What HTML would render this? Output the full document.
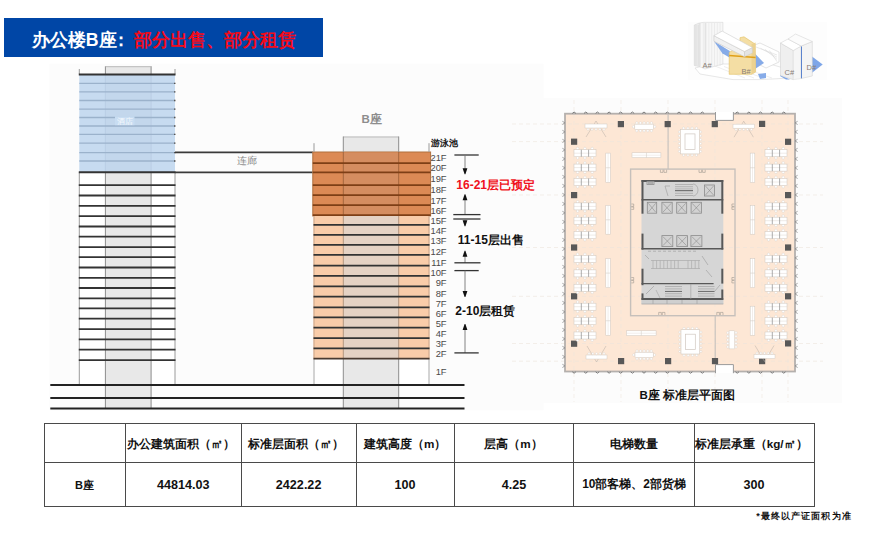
<!DOCTYPE html>
<html><head><meta charset="utf-8"><style>
html,body{margin:0;padding:0;background:#fff;}
body{width:873px;height:542px;position:relative;overflow:hidden;font-family:"Liberation Sans", sans-serif;}
.t{position:absolute;white-space:nowrap;line-height:1;}
.fl{position:absolute;left:420px;width:26.6px;text-align:right;font-size:9.4px;line-height:11px;color:#4a4a4a;white-space:nowrap;}
#title{position:absolute;left:4px;top:18px;width:319px;height:39px;background:#0046a6;}
#title span{position:absolute;top:11.5px;font-size:17.7px;font-weight:bold;line-height:20px;color:#fff;white-space:nowrap;}
#title .w1{left:27.8px;}
#title .w2{left:107.5px;}
#title .w3{left:129.5px;color:#f50a1a;}
table{position:absolute;left:43.5px;top:423px;border-collapse:collapse;table-layout:fixed;}
td{border:1.3px solid #4a4a4a;text-align:center;padding:0;font-weight:bold;white-space:nowrap;color:#111;}
tr.h td{height:39px;font-size:11.7px;padding-top:3px;box-sizing:border-box;}
tr.d td{height:44px;font-size:12.6px;padding-top:1px;box-sizing:border-box;}
</style></head><body>
<svg width="873" height="542" style="position:absolute;left:0;top:0"><rect x="49.5" y="63.7" width="494.1" height="346.7" fill="#fcfcfc" /><rect x="105.4" y="66.2" width="45.69999999999999" height="342.2" fill="#e8e8e8" /><rect x="79.3" y="74.4" width="95.7" height="97.79999999999998" fill="#c7dbf0" /><rect x="105.4" y="74.4" width="45.69999999999999" height="97.79999999999998" fill="#c3d7ec" /><rect x="79.3" y="172.2" width="26.10000000000001" height="212.7" fill="#ffffff" /><rect x="151.1" y="172.2" width="23.900000000000006" height="212.7" fill="#ffffff" /><line x1="79.3" y1="69" x2="79.3" y2="74.4" stroke="#9a9a9a" stroke-width="1"/><line x1="175.0" y1="69" x2="175.0" y2="74.4" stroke="#9a9a9a" stroke-width="1"/><line x1="79.3" y1="172.2" x2="79.3" y2="384.9" stroke="#9a9a9a" stroke-width="1"/><line x1="175.0" y1="172.2" x2="175.0" y2="384.9" stroke="#9a9a9a" stroke-width="1"/><line x1="105.4" y1="66.2" x2="105.4" y2="74.4" stroke="#8c8c8c" stroke-width="1"/><line x1="151.1" y1="66.2" x2="151.1" y2="74.4" stroke="#8c8c8c" stroke-width="1"/><line x1="105.4" y1="74.4" x2="105.4" y2="172.2" stroke="#b7cce2" stroke-width="0.8"/><line x1="151.1" y1="74.4" x2="151.1" y2="172.2" stroke="#b7cce2" stroke-width="0.8"/><line x1="105.4" y1="172.2" x2="105.4" y2="408.4" stroke="#8c8c8c" stroke-width="1"/><line x1="151.1" y1="172.2" x2="151.1" y2="408.4" stroke="#8c8c8c" stroke-width="1"/><line x1="105.4" y1="66.7" x2="151.1" y2="66.7" stroke="#bbbbbb" stroke-width="1"/><line x1="79.3" y1="83.4" x2="175.0" y2="83.4" stroke="#9bb2cb" stroke-width="1.3"/><line x1="174.0" y1="83.4" x2="175.5" y2="83.4" stroke="#555" stroke-width="1.3"/><line x1="79.3" y1="91.9" x2="175.0" y2="91.9" stroke="#9bb2cb" stroke-width="1.3"/><line x1="174.0" y1="91.9" x2="175.5" y2="91.9" stroke="#555" stroke-width="1.3"/><line x1="79.3" y1="100.5" x2="175.0" y2="100.5" stroke="#9bb2cb" stroke-width="1.3"/><line x1="174.0" y1="100.5" x2="175.5" y2="100.5" stroke="#555" stroke-width="1.3"/><line x1="79.3" y1="109.1" x2="175.0" y2="109.1" stroke="#9bb2cb" stroke-width="1.3"/><line x1="174.0" y1="109.1" x2="175.5" y2="109.1" stroke="#555" stroke-width="1.3"/><line x1="79.3" y1="117.5" x2="175.0" y2="117.5" stroke="#9bb2cb" stroke-width="1.3"/><line x1="174.0" y1="117.5" x2="175.5" y2="117.5" stroke="#555" stroke-width="1.3"/><line x1="79.3" y1="126.0" x2="175.0" y2="126.0" stroke="#9bb2cb" stroke-width="1.3"/><line x1="174.0" y1="126.0" x2="175.5" y2="126.0" stroke="#555" stroke-width="1.3"/><line x1="79.3" y1="134.3" x2="175.0" y2="134.3" stroke="#9bb2cb" stroke-width="1.3"/><line x1="174.0" y1="134.3" x2="175.5" y2="134.3" stroke="#555" stroke-width="1.3"/><line x1="79.3" y1="143.1" x2="175.0" y2="143.1" stroke="#9bb2cb" stroke-width="1.3"/><line x1="174.0" y1="143.1" x2="175.5" y2="143.1" stroke="#555" stroke-width="1.3"/><line x1="79.3" y1="152.6" x2="175.0" y2="152.6" stroke="#9bb2cb" stroke-width="1.3"/><line x1="174.0" y1="152.6" x2="175.5" y2="152.6" stroke="#555" stroke-width="1.3"/><line x1="79.3" y1="161.0" x2="175.0" y2="161.0" stroke="#9bb2cb" stroke-width="1.3"/><line x1="174.0" y1="161.0" x2="175.5" y2="161.0" stroke="#555" stroke-width="1.3"/><rect x="115" y="116.4" width="19.5" height="8.8" fill="#c8ddf2" /><line x1="78.8" y1="74.4" x2="175.5" y2="74.4" stroke="#333333" stroke-width="2"/><line x1="78.8" y1="172.2" x2="175.5" y2="172.2" stroke="#333333" stroke-width="2"/><line x1="78.8" y1="185.1" x2="175.5" y2="185.1" stroke="#333333" stroke-width="1.8"/><line x1="78.8" y1="195.5" x2="175.5" y2="195.5" stroke="#333333" stroke-width="1.8"/><line x1="78.8" y1="205.9" x2="175.5" y2="205.9" stroke="#333333" stroke-width="1.8"/><line x1="78.8" y1="216.1" x2="175.5" y2="216.1" stroke="#333333" stroke-width="1.8"/><line x1="78.8" y1="226.5" x2="175.5" y2="226.5" stroke="#333333" stroke-width="1.8"/><line x1="78.8" y1="236.7" x2="175.5" y2="236.7" stroke="#333333" stroke-width="1.8"/><line x1="78.8" y1="247.1" x2="175.5" y2="247.1" stroke="#333333" stroke-width="1.8"/><line x1="78.8" y1="257.1" x2="175.5" y2="257.1" stroke="#333333" stroke-width="1.8"/><line x1="78.8" y1="267.5" x2="175.5" y2="267.5" stroke="#333333" stroke-width="1.8"/><line x1="78.8" y1="277.9" x2="175.5" y2="277.9" stroke="#333333" stroke-width="1.8"/><line x1="78.8" y1="288.0" x2="175.5" y2="288.0" stroke="#333333" stroke-width="1.8"/><line x1="78.8" y1="298.3" x2="175.5" y2="298.3" stroke="#333333" stroke-width="1.8"/><line x1="78.8" y1="308.4" x2="175.5" y2="308.4" stroke="#333333" stroke-width="1.8"/><line x1="78.8" y1="318.7" x2="175.5" y2="318.7" stroke="#333333" stroke-width="1.8"/><line x1="78.8" y1="329.1" x2="175.5" y2="329.1" stroke="#333333" stroke-width="1.8"/><line x1="78.8" y1="339.4" x2="175.5" y2="339.4" stroke="#333333" stroke-width="1.8"/><line x1="78.8" y1="349.7" x2="175.5" y2="349.7" stroke="#333333" stroke-width="1.8"/><line x1="78.8" y1="360.1" x2="175.5" y2="360.1" stroke="#333333" stroke-width="1.8"/><line x1="175.0" y1="152.4" x2="312.8" y2="152.4" stroke="#3a3a3a" stroke-width="1.8"/><line x1="175.0" y1="172.3" x2="312.8" y2="172.3" stroke="#3a3a3a" stroke-width="1.8"/><rect x="343.3" y="136.5" width="55.39999999999998" height="271.9" fill="#e8e8e8" /><line x1="343.3" y1="137" x2="398.7" y2="137" stroke="#bbbbbb" stroke-width="1"/><rect x="312.8" y="152.0" width="117.80000000000001" height="64.0" fill="#dc8a55" stroke="#b0703f" stroke-width="1" /><rect x="343.3" y="152.5" width="55.39999999999998" height="63.0" fill="#d58d60" /><rect x="313.5" y="216.0" width="116.0" height="142.7" fill="#f9cca9" /><rect x="343.3" y="216.0" width="55.39999999999998" height="142.7" fill="#e5d2c4" /><rect x="313.5" y="358.7" width="29.80000000000001" height="26.19999999999999" fill="#ffffff" /><rect x="398.7" y="358.7" width="30.80000000000001" height="26.19999999999999" fill="#ffffff" /><line x1="314.0" y1="143.2" x2="314.0" y2="152" stroke="#9a9a9a" stroke-width="1"/><line x1="429.0" y1="143.2" x2="429.0" y2="152" stroke="#9a9a9a" stroke-width="1"/><line x1="314.0" y1="216" x2="314.0" y2="358.7" stroke="#c9a58a" stroke-width="1"/><line x1="429.0" y1="216" x2="429.0" y2="358.7" stroke="#c9a58a" stroke-width="1"/><line x1="314.0" y1="358.7" x2="314.0" y2="384.9" stroke="#a8a8a8" stroke-width="1"/><line x1="429.0" y1="358.7" x2="429.0" y2="384.9" stroke="#a8a8a8" stroke-width="1"/><line x1="343.3" y1="136.5" x2="343.3" y2="152" stroke="#8c8c8c" stroke-width="1"/><line x1="398.7" y1="136.5" x2="398.7" y2="152" stroke="#8c8c8c" stroke-width="1"/><line x1="343.3" y1="152" x2="343.3" y2="216" stroke="#a4663c" stroke-width="1"/><line x1="398.7" y1="152" x2="398.7" y2="216" stroke="#a4663c" stroke-width="1"/><line x1="343.3" y1="216" x2="343.3" y2="358.7" stroke="#b39680" stroke-width="1"/><line x1="398.7" y1="216" x2="398.7" y2="358.7" stroke="#b39680" stroke-width="1"/><line x1="343.3" y1="358.7" x2="343.3" y2="408.4" stroke="#8c8c8c" stroke-width="1"/><line x1="398.7" y1="358.7" x2="398.7" y2="408.4" stroke="#8c8c8c" stroke-width="1"/><line x1="312.8" y1="163.1" x2="430.6" y2="163.1" stroke="#7e3f16" stroke-width="1.8"/><line x1="312.8" y1="172.4" x2="430.6" y2="172.4" stroke="#7e3f16" stroke-width="1.8"/><line x1="312.8" y1="185.2" x2="430.6" y2="185.2" stroke="#7e3f16" stroke-width="1.8"/><line x1="312.8" y1="195.2" x2="430.6" y2="195.2" stroke="#7e3f16" stroke-width="1.8"/><line x1="312.8" y1="205.1" x2="430.6" y2="205.1" stroke="#7e3f16" stroke-width="1.8"/><line x1="312.8" y1="215.2" x2="430.6" y2="215.2" stroke="#7e3f16" stroke-width="1.8"/><line x1="313.5" y1="224.8" x2="429.5" y2="224.8" stroke="#333333" stroke-width="1.8"/><line x1="313.5" y1="234.8" x2="429.5" y2="234.8" stroke="#333333" stroke-width="1.8"/><line x1="313.5" y1="244.9" x2="429.5" y2="244.9" stroke="#333333" stroke-width="1.8"/><line x1="313.5" y1="254.9" x2="429.5" y2="254.9" stroke="#333333" stroke-width="1.8"/><line x1="313.5" y1="265.7" x2="429.5" y2="265.7" stroke="#333333" stroke-width="1.8"/><line x1="313.5" y1="275.9" x2="429.5" y2="275.9" stroke="#333333" stroke-width="1.8"/><line x1="313.5" y1="286.3" x2="429.5" y2="286.3" stroke="#333333" stroke-width="1.8"/><line x1="313.5" y1="296.7" x2="429.5" y2="296.7" stroke="#333333" stroke-width="1.8"/><line x1="313.5" y1="307.3" x2="429.5" y2="307.3" stroke="#333333" stroke-width="1.8"/><line x1="313.5" y1="317.3" x2="429.5" y2="317.3" stroke="#333333" stroke-width="1.8"/><line x1="313.5" y1="327.7" x2="429.5" y2="327.7" stroke="#333333" stroke-width="1.8"/><line x1="313.5" y1="338.1" x2="429.5" y2="338.1" stroke="#333333" stroke-width="1.8"/><line x1="313.5" y1="348.3" x2="429.5" y2="348.3" stroke="#333333" stroke-width="1.8"/><line x1="313.5" y1="358.7" x2="429.5" y2="358.7" stroke="#4a3a30" stroke-width="1.8"/><line x1="50.3" y1="384.9" x2="464.5" y2="384.9" stroke="#222222" stroke-width="2"/><line x1="50.3" y1="397.9" x2="464.5" y2="397.9" stroke="#222222" stroke-width="2"/><line x1="50.3" y1="408.4" x2="464.5" y2="408.4" stroke="#222222" stroke-width="2"/><line x1="454.4" y1="155.0" x2="478.7" y2="155.0" stroke="#333333" stroke-width="1.3"/><line x1="465.0" y1="155.0" x2="465.0" y2="169.3" stroke="#777" stroke-width="0.9"/><polygon points="462.6,168.3 467.4,168.3 465.4,174.3 464.6,174.3" fill="#111"/><line x1="465.0" y1="214.6" x2="465.0" y2="199.2" stroke="#777" stroke-width="0.9"/><polygon points="462.6,200.2 467.4,200.2 465.4,194.2 464.6,194.2" fill="#111"/><line x1="453.3" y1="214.6" x2="480.5" y2="214.6" stroke="#333333" stroke-width="1.3"/><line x1="453.3" y1="219.0" x2="480.5" y2="219.0" stroke="#333333" stroke-width="1.3"/><line x1="465.0" y1="219.0" x2="465.0" y2="221.3" stroke="#777" stroke-width="0.9"/><polygon points="462.6,220.3 467.4,220.3 465.4,226.3 464.6,226.3" fill="#111"/><line x1="465.0" y1="262.8" x2="465.0" y2="255.7" stroke="#777" stroke-width="0.9"/><polygon points="462.6,256.7 467.4,256.7 465.4,250.7 464.6,250.7" fill="#111"/><line x1="454.4" y1="262.8" x2="480.5" y2="262.8" stroke="#333333" stroke-width="1.3"/><line x1="454.4" y1="270.6" x2="478.7" y2="270.6" stroke="#333333" stroke-width="1.3"/><line x1="465.0" y1="270.6" x2="465.0" y2="292.1" stroke="#777" stroke-width="0.9"/><polygon points="462.6,291.1 467.4,291.1 465.4,297.1 464.6,297.1" fill="#111"/><line x1="465.0" y1="352.9" x2="465.0" y2="329.1" stroke="#777" stroke-width="0.9"/><polygon points="462.6,330.1 467.4,330.1 465.4,324.1 464.6,324.1" fill="#111"/><line x1="454.4" y1="352.9" x2="478.7" y2="352.9" stroke="#333333" stroke-width="1.3"/><rect x="508" y="98" width="334" height="304.8" fill="#fcfcfc" /><rect x="565.0" y="113.7" width="230.0" height="257.8" fill="#fde7d5" /><line x1="512" y1="124" x2="823" y2="124" stroke="#ece4dc" stroke-width="0.6" stroke-dasharray="4,3"/><line x1="512" y1="141.6" x2="823" y2="141.6" stroke="#ece4dc" stroke-width="0.6" stroke-dasharray="4,3"/><line x1="512" y1="195" x2="823" y2="195" stroke="#ece4dc" stroke-width="0.6" stroke-dasharray="4,3"/><line x1="512" y1="247.5" x2="823" y2="247.5" stroke="#ece4dc" stroke-width="0.6" stroke-dasharray="4,3"/><line x1="512" y1="296.3" x2="823" y2="296.3" stroke="#ece4dc" stroke-width="0.6" stroke-dasharray="4,3"/><line x1="512" y1="343.5" x2="823" y2="343.5" stroke="#ece4dc" stroke-width="0.6" stroke-dasharray="4,3"/><line x1="512" y1="361.2" x2="823" y2="361.2" stroke="#ece4dc" stroke-width="0.6" stroke-dasharray="4,3"/><line x1="574" y1="100" x2="574" y2="402" stroke="#eee6de" stroke-width="0.6" stroke-dasharray="4,3"/><line x1="621" y1="100" x2="621" y2="402" stroke="#eee6de" stroke-width="0.6" stroke-dasharray="4,3"/><line x1="668" y1="100" x2="668" y2="402" stroke="#eee6de" stroke-width="0.6" stroke-dasharray="4,3"/><line x1="715" y1="100" x2="715" y2="402" stroke="#eee6de" stroke-width="0.6" stroke-dasharray="4,3"/><line x1="762" y1="100" x2="762" y2="402" stroke="#eee6de" stroke-width="0.6" stroke-dasharray="4,3"/><line x1="788" y1="100" x2="788" y2="402" stroke="#eee6de" stroke-width="0.6" stroke-dasharray="4,3"/><rect x="565.0" y="113.7" width="230.0" height="257.8" fill="none" stroke="#b4b0ad" stroke-width="1.8" /><path d="M572.3,113.4 q1.8,-2.8 3.6,0" fill="none" stroke="#7a7a7a" stroke-width="1.0"/><path d="M572.3,371.8 q1.8,2.8 3.6,0" fill="none" stroke="#7a7a7a" stroke-width="1.0"/><path d="M584.0,113.4 q1.8,-2.8 3.6,0" fill="none" stroke="#7a7a7a" stroke-width="1.0"/><path d="M584.0,371.8 q1.8,2.8 3.6,0" fill="none" stroke="#7a7a7a" stroke-width="1.0"/><path d="M595.6,113.4 q1.8,-2.8 3.6,0" fill="none" stroke="#7a7a7a" stroke-width="1.0"/><path d="M595.6,371.8 q1.8,2.8 3.6,0" fill="none" stroke="#7a7a7a" stroke-width="1.0"/><path d="M607.3,113.4 q1.8,-2.8 3.6,0" fill="none" stroke="#7a7a7a" stroke-width="1.0"/><path d="M607.3,371.8 q1.8,2.8 3.6,0" fill="none" stroke="#7a7a7a" stroke-width="1.0"/><path d="M618.9,113.4 q1.8,-2.8 3.6,0" fill="none" stroke="#7a7a7a" stroke-width="1.0"/><path d="M618.9,371.8 q1.8,2.8 3.6,0" fill="none" stroke="#7a7a7a" stroke-width="1.0"/><path d="M630.6,113.4 q1.8,-2.8 3.6,0" fill="none" stroke="#7a7a7a" stroke-width="1.0"/><path d="M630.6,371.8 q1.8,2.8 3.6,0" fill="none" stroke="#7a7a7a" stroke-width="1.0"/><path d="M642.2,113.4 q1.8,-2.8 3.6,0" fill="none" stroke="#7a7a7a" stroke-width="1.0"/><path d="M642.2,371.8 q1.8,2.8 3.6,0" fill="none" stroke="#7a7a7a" stroke-width="1.0"/><path d="M653.9,113.4 q1.8,-2.8 3.6,0" fill="none" stroke="#7a7a7a" stroke-width="1.0"/><path d="M653.9,371.8 q1.8,2.8 3.6,0" fill="none" stroke="#7a7a7a" stroke-width="1.0"/><path d="M665.5,113.4 q1.8,-2.8 3.6,0" fill="none" stroke="#7a7a7a" stroke-width="1.0"/><path d="M665.5,371.8 q1.8,2.8 3.6,0" fill="none" stroke="#7a7a7a" stroke-width="1.0"/><path d="M677.2,113.4 q1.8,-2.8 3.6,0" fill="none" stroke="#7a7a7a" stroke-width="1.0"/><path d="M677.2,371.8 q1.8,2.8 3.6,0" fill="none" stroke="#7a7a7a" stroke-width="1.0"/><path d="M688.8,113.4 q1.8,-2.8 3.6,0" fill="none" stroke="#7a7a7a" stroke-width="1.0"/><path d="M688.8,371.8 q1.8,2.8 3.6,0" fill="none" stroke="#7a7a7a" stroke-width="1.0"/><path d="M700.5,113.4 q1.8,-2.8 3.6,0" fill="none" stroke="#7a7a7a" stroke-width="1.0"/><path d="M700.5,371.8 q1.8,2.8 3.6,0" fill="none" stroke="#7a7a7a" stroke-width="1.0"/><path d="M735.4,113.4 q1.8,-2.8 3.6,0" fill="none" stroke="#7a7a7a" stroke-width="1.0"/><path d="M735.4,371.8 q1.8,2.8 3.6,0" fill="none" stroke="#7a7a7a" stroke-width="1.0"/><path d="M747.1,113.4 q1.8,-2.8 3.6,0" fill="none" stroke="#7a7a7a" stroke-width="1.0"/><path d="M747.1,371.8 q1.8,2.8 3.6,0" fill="none" stroke="#7a7a7a" stroke-width="1.0"/><path d="M758.7,113.4 q1.8,-2.8 3.6,0" fill="none" stroke="#7a7a7a" stroke-width="1.0"/><path d="M758.7,371.8 q1.8,2.8 3.6,0" fill="none" stroke="#7a7a7a" stroke-width="1.0"/><path d="M770.4,113.4 q1.8,-2.8 3.6,0" fill="none" stroke="#7a7a7a" stroke-width="1.0"/><path d="M770.4,371.8 q1.8,2.8 3.6,0" fill="none" stroke="#7a7a7a" stroke-width="1.0"/><path d="M782.0,113.4 q1.8,-2.8 3.6,0" fill="none" stroke="#7a7a7a" stroke-width="1.0"/><path d="M782.0,371.8 q1.8,2.8 3.6,0" fill="none" stroke="#7a7a7a" stroke-width="1.0"/><path d="M562.4,121.3 L565.0,122.9 L562.4,124.5" fill="none" stroke="#8d8d8d" stroke-width="0.8"/><path d="M797.6,121.3 L795.0,122.9 L797.6,124.5" fill="none" stroke="#8d8d8d" stroke-width="0.8"/><path d="M562.4,130.3 L565.0,131.9 L562.4,133.5" fill="none" stroke="#8d8d8d" stroke-width="0.8"/><path d="M797.6,130.3 L795.0,131.9 L797.6,133.5" fill="none" stroke="#8d8d8d" stroke-width="0.8"/><path d="M562.4,139.3 L565.0,140.9 L562.4,142.5" fill="none" stroke="#8d8d8d" stroke-width="0.8"/><path d="M797.6,139.3 L795.0,140.9 L797.6,142.5" fill="none" stroke="#8d8d8d" stroke-width="0.8"/><path d="M562.4,148.3 L565.0,149.9 L562.4,151.5" fill="none" stroke="#8d8d8d" stroke-width="0.8"/><path d="M797.6,148.3 L795.0,149.9 L797.6,151.5" fill="none" stroke="#8d8d8d" stroke-width="0.8"/><path d="M562.4,157.3 L565.0,158.9 L562.4,160.5" fill="none" stroke="#8d8d8d" stroke-width="0.8"/><path d="M797.6,157.3 L795.0,158.9 L797.6,160.5" fill="none" stroke="#8d8d8d" stroke-width="0.8"/><path d="M562.4,166.3 L565.0,167.9 L562.4,169.5" fill="none" stroke="#8d8d8d" stroke-width="0.8"/><path d="M797.6,166.3 L795.0,167.9 L797.6,169.5" fill="none" stroke="#8d8d8d" stroke-width="0.8"/><path d="M562.4,175.3 L565.0,176.9 L562.4,178.5" fill="none" stroke="#8d8d8d" stroke-width="0.8"/><path d="M797.6,175.3 L795.0,176.9 L797.6,178.5" fill="none" stroke="#8d8d8d" stroke-width="0.8"/><path d="M562.4,184.3 L565.0,185.9 L562.4,187.5" fill="none" stroke="#8d8d8d" stroke-width="0.8"/><path d="M797.6,184.3 L795.0,185.9 L797.6,187.5" fill="none" stroke="#8d8d8d" stroke-width="0.8"/><path d="M562.4,193.3 L565.0,194.9 L562.4,196.5" fill="none" stroke="#8d8d8d" stroke-width="0.8"/><path d="M797.6,193.3 L795.0,194.9 L797.6,196.5" fill="none" stroke="#8d8d8d" stroke-width="0.8"/><path d="M562.4,202.3 L565.0,203.9 L562.4,205.5" fill="none" stroke="#8d8d8d" stroke-width="0.8"/><path d="M797.6,202.3 L795.0,203.9 L797.6,205.5" fill="none" stroke="#8d8d8d" stroke-width="0.8"/><path d="M562.4,211.3 L565.0,212.9 L562.4,214.5" fill="none" stroke="#8d8d8d" stroke-width="0.8"/><path d="M797.6,211.3 L795.0,212.9 L797.6,214.5" fill="none" stroke="#8d8d8d" stroke-width="0.8"/><path d="M562.4,220.3 L565.0,221.9 L562.4,223.5" fill="none" stroke="#8d8d8d" stroke-width="0.8"/><path d="M797.6,220.3 L795.0,221.9 L797.6,223.5" fill="none" stroke="#8d8d8d" stroke-width="0.8"/><path d="M562.4,229.3 L565.0,230.9 L562.4,232.5" fill="none" stroke="#8d8d8d" stroke-width="0.8"/><path d="M797.6,229.3 L795.0,230.9 L797.6,232.5" fill="none" stroke="#8d8d8d" stroke-width="0.8"/><path d="M562.4,238.3 L565.0,239.9 L562.4,241.5" fill="none" stroke="#8d8d8d" stroke-width="0.8"/><path d="M797.6,238.3 L795.0,239.9 L797.6,241.5" fill="none" stroke="#8d8d8d" stroke-width="0.8"/><path d="M562.4,247.3 L565.0,248.9 L562.4,250.5" fill="none" stroke="#8d8d8d" stroke-width="0.8"/><path d="M797.6,247.3 L795.0,248.9 L797.6,250.5" fill="none" stroke="#8d8d8d" stroke-width="0.8"/><path d="M562.4,256.3 L565.0,257.9 L562.4,259.5" fill="none" stroke="#8d8d8d" stroke-width="0.8"/><path d="M797.6,256.3 L795.0,257.9 L797.6,259.5" fill="none" stroke="#8d8d8d" stroke-width="0.8"/><path d="M562.4,265.3 L565.0,266.9 L562.4,268.5" fill="none" stroke="#8d8d8d" stroke-width="0.8"/><path d="M797.6,265.3 L795.0,266.9 L797.6,268.5" fill="none" stroke="#8d8d8d" stroke-width="0.8"/><path d="M562.4,274.3 L565.0,275.9 L562.4,277.5" fill="none" stroke="#8d8d8d" stroke-width="0.8"/><path d="M797.6,274.3 L795.0,275.9 L797.6,277.5" fill="none" stroke="#8d8d8d" stroke-width="0.8"/><path d="M562.4,283.3 L565.0,284.9 L562.4,286.5" fill="none" stroke="#8d8d8d" stroke-width="0.8"/><path d="M797.6,283.3 L795.0,284.9 L797.6,286.5" fill="none" stroke="#8d8d8d" stroke-width="0.8"/><path d="M562.4,292.3 L565.0,293.9 L562.4,295.5" fill="none" stroke="#8d8d8d" stroke-width="0.8"/><path d="M797.6,292.3 L795.0,293.9 L797.6,295.5" fill="none" stroke="#8d8d8d" stroke-width="0.8"/><path d="M562.4,301.3 L565.0,302.9 L562.4,304.5" fill="none" stroke="#8d8d8d" stroke-width="0.8"/><path d="M797.6,301.3 L795.0,302.9 L797.6,304.5" fill="none" stroke="#8d8d8d" stroke-width="0.8"/><path d="M562.4,310.3 L565.0,311.9 L562.4,313.5" fill="none" stroke="#8d8d8d" stroke-width="0.8"/><path d="M797.6,310.3 L795.0,311.9 L797.6,313.5" fill="none" stroke="#8d8d8d" stroke-width="0.8"/><path d="M562.4,319.3 L565.0,320.9 L562.4,322.5" fill="none" stroke="#8d8d8d" stroke-width="0.8"/><path d="M797.6,319.3 L795.0,320.9 L797.6,322.5" fill="none" stroke="#8d8d8d" stroke-width="0.8"/><path d="M562.4,328.3 L565.0,329.9 L562.4,331.5" fill="none" stroke="#8d8d8d" stroke-width="0.8"/><path d="M797.6,328.3 L795.0,329.9 L797.6,331.5" fill="none" stroke="#8d8d8d" stroke-width="0.8"/><path d="M562.4,337.3 L565.0,338.9 L562.4,340.5" fill="none" stroke="#8d8d8d" stroke-width="0.8"/><path d="M797.6,337.3 L795.0,338.9 L797.6,340.5" fill="none" stroke="#8d8d8d" stroke-width="0.8"/><path d="M562.4,346.3 L565.0,347.9 L562.4,349.5" fill="none" stroke="#8d8d8d" stroke-width="0.8"/><path d="M797.6,346.3 L795.0,347.9 L797.6,349.5" fill="none" stroke="#8d8d8d" stroke-width="0.8"/><path d="M562.4,355.3 L565.0,356.9 L562.4,358.5" fill="none" stroke="#8d8d8d" stroke-width="0.8"/><path d="M797.6,355.3 L795.0,356.9 L797.6,358.5" fill="none" stroke="#8d8d8d" stroke-width="0.8"/><path d="M562.4,364.3 L565.0,365.9 L562.4,367.5" fill="none" stroke="#8d8d8d" stroke-width="0.8"/><path d="M797.6,364.3 L795.0,365.9 L797.6,367.5" fill="none" stroke="#8d8d8d" stroke-width="0.8"/><rect x="715.5" y="112.0" width="17.899999999999977" height="8.400000000000006" fill="#ffffff" /><line x1="715.5" y1="112.0" x2="715.5" y2="120.4" stroke="#9a9a9a" stroke-width="1"/><line x1="733.4" y1="112.0" x2="733.4" y2="120.4" stroke="#9a9a9a" stroke-width="1"/><line x1="715.5" y1="120.4" x2="733.4" y2="120.4" stroke="#9a9a9a" stroke-width="1"/><rect x="715.5" y="364.6" width="17.899999999999977" height="8.599999999999966" fill="#ffffff" /><line x1="715.5" y1="364.6" x2="715.5" y2="373.2" stroke="#9a9a9a" stroke-width="1"/><line x1="733.4" y1="364.6" x2="733.4" y2="373.2" stroke="#9a9a9a" stroke-width="1"/><line x1="715.5" y1="364.6" x2="733.4" y2="364.6" stroke="#9a9a9a" stroke-width="1"/><rect x="630.6" y="169.1" width="104.39999999999998" height="146.6" fill="none" stroke="#c6c0bb" stroke-width="1.4" /><line x1="668.1" y1="113.7" x2="668.1" y2="169.1" stroke="#c6c0bb" stroke-width="1.1"/><line x1="715.2" y1="315.7" x2="715.2" y2="364.6" stroke="#c6c0bb" stroke-width="1.1"/><path d="M660.4,169.8 l0,2.6 l2.6,0 l0,-2.6" fill="none" stroke="#a09890" stroke-width="0.6"/><path d="M664,169.8 l0,2.6 l2.6,0 l0,-2.6" fill="none" stroke="#a09890" stroke-width="0.6"/><path d="M699,169.8 l0,2.6 l2.6,0 l0,-2.6" fill="none" stroke="#a09890" stroke-width="0.6"/><path d="M702.6,169.8 l0,2.6 l2.6,0 l0,-2.6" fill="none" stroke="#a09890" stroke-width="0.6"/><path d="M658.7,315 l0,-2.6 l2.6,0 l0,2.6" fill="none" stroke="#a09890" stroke-width="0.6"/><path d="M662.3,315 l0,-2.6 l2.6,0 l0,2.6" fill="none" stroke="#a09890" stroke-width="0.6"/><path d="M716.8,315 l0,-2.6 l2.6,0 l0,2.6" fill="none" stroke="#a09890" stroke-width="0.6"/><path d="M720.4,315 l0,-2.6 l2.6,0 l0,2.6" fill="none" stroke="#a09890" stroke-width="0.6"/><path d="M631.3,204 l2.4,0 l0,2.4 l-2.4,0" fill="none" stroke="#a09890" stroke-width="0.6"/><path d="M631.3,207 l2.4,0 l0,2.4 l-2.4,0" fill="none" stroke="#a09890" stroke-width="0.6"/><path d="M734.3,204 l-2.4,0 l0,2.4 l2.4,0" fill="none" stroke="#a09890" stroke-width="0.6"/><path d="M734.3,207 l-2.4,0 l0,2.4 l2.4,0" fill="none" stroke="#a09890" stroke-width="0.6"/><path d="M631.3,277.5 l2.4,0 l0,2.4 l-2.4,0" fill="none" stroke="#a09890" stroke-width="0.6"/><path d="M631.3,280.5 l2.4,0 l0,2.4 l-2.4,0" fill="none" stroke="#a09890" stroke-width="0.6"/><path d="M734.3,277.5 l-2.4,0 l0,2.4 l2.4,0" fill="none" stroke="#a09890" stroke-width="0.6"/><path d="M734.3,280.5 l-2.4,0 l0,2.4 l2.4,0" fill="none" stroke="#a09890" stroke-width="0.6"/><rect x="641.5" y="180.0" width="81.79999999999995" height="124.0" fill="#d6d6d6" /><line x1="641.5" y1="181.0" x2="723.3" y2="181.0" stroke="#585858" stroke-width="2"/><line x1="642.5" y1="180" x2="642.5" y2="213.7" stroke="#585858" stroke-width="2"/><line x1="722.3" y1="180" x2="722.3" y2="213.7" stroke="#585858" stroke-width="2"/><line x1="642.5" y1="233.6" x2="642.5" y2="249.6" stroke="#585858" stroke-width="2"/><line x1="722.3" y1="233.6" x2="722.3" y2="249.6" stroke="#585858" stroke-width="2"/><line x1="641.5" y1="199.7" x2="723.3" y2="199.7" stroke="#585858" stroke-width="1.5"/><line x1="641.5" y1="248.8" x2="723.3" y2="248.8" stroke="#585858" stroke-width="1.6"/><line x1="642.5" y1="268.7" x2="642.5" y2="285.2" stroke="#585858" stroke-width="2"/><line x1="722.3" y1="268.7" x2="722.3" y2="283.6" stroke="#585858" stroke-width="2"/><line x1="641.5" y1="283.6" x2="713.6" y2="283.6" stroke="#585858" stroke-width="1.3"/><line x1="642.5" y1="293.4" x2="642.5" y2="299.8" stroke="#585858" stroke-width="2"/><line x1="722.3" y1="289.5" x2="722.3" y2="299.8" stroke="#585858" stroke-width="2"/><line x1="641.5" y1="299.0" x2="723.3" y2="299.0" stroke="#585858" stroke-width="2"/><rect x="641.5" y="300" width="81.79999999999995" height="4" fill="#cfcfcf" /><line x1="653" y1="300" x2="653" y2="304" stroke="#9a9a9a" stroke-width="0.6"/><line x1="667" y1="300" x2="667" y2="304" stroke="#9a9a9a" stroke-width="0.6"/><line x1="682" y1="300" x2="682" y2="304" stroke="#9a9a9a" stroke-width="0.6"/><line x1="697" y1="300" x2="697" y2="304" stroke="#9a9a9a" stroke-width="0.6"/><line x1="641.5" y1="304" x2="723.3" y2="304" stroke="#a8a8a8" stroke-width="0.8"/><rect x="647.3" y="202.3" width="9.400000000000091" height="10.899999999999977" fill="#d2d2d2" stroke="#8c8c8c" stroke-width="0.8" /><line x1="648.3" y1="203.3" x2="655.7" y2="212.2" stroke="#8c8c8c" stroke-width="0.6"/><line x1="648.3" y1="212.2" x2="655.7" y2="203.3" stroke="#8c8c8c" stroke-width="0.6"/><rect x="661.9" y="202.3" width="10.300000000000068" height="10.899999999999977" fill="#d2d2d2" stroke="#8c8c8c" stroke-width="0.8" /><line x1="662.9" y1="203.3" x2="671.2" y2="212.2" stroke="#8c8c8c" stroke-width="0.6"/><line x1="662.9" y1="212.2" x2="671.2" y2="203.3" stroke="#8c8c8c" stroke-width="0.6"/><rect x="676.7" y="202.3" width="10.0" height="10.899999999999977" fill="#d2d2d2" stroke="#8c8c8c" stroke-width="0.8" /><line x1="677.7" y1="203.3" x2="685.7" y2="212.2" stroke="#8c8c8c" stroke-width="0.6"/><line x1="677.7" y1="212.2" x2="685.7" y2="203.3" stroke="#8c8c8c" stroke-width="0.6"/><rect x="691.1" y="202.3" width="10.399999999999977" height="10.899999999999977" fill="#d2d2d2" stroke="#8c8c8c" stroke-width="0.8" /><line x1="692.1" y1="203.3" x2="700.5" y2="212.2" stroke="#8c8c8c" stroke-width="0.6"/><line x1="692.1" y1="212.2" x2="700.5" y2="203.3" stroke="#8c8c8c" stroke-width="0.6"/><rect x="661.9" y="235.6" width="10.899999999999977" height="11.0" fill="#d2d2d2" stroke="#8c8c8c" stroke-width="0.8" /><line x1="662.9" y1="236.6" x2="671.8" y2="245.6" stroke="#8c8c8c" stroke-width="0.6"/><line x1="662.9" y1="245.6" x2="671.8" y2="236.6" stroke="#8c8c8c" stroke-width="0.6"/><rect x="676.8" y="235.6" width="10.700000000000045" height="11.0" fill="#d2d2d2" stroke="#8c8c8c" stroke-width="0.8" /><line x1="677.8" y1="236.6" x2="686.5" y2="245.6" stroke="#8c8c8c" stroke-width="0.6"/><line x1="677.8" y1="245.6" x2="686.5" y2="236.6" stroke="#8c8c8c" stroke-width="0.6"/><rect x="690.9" y="235.6" width="11.0" height="11.0" fill="#d2d2d2" stroke="#8c8c8c" stroke-width="0.8" /><line x1="691.9" y1="236.6" x2="700.9" y2="245.6" stroke="#8c8c8c" stroke-width="0.6"/><line x1="691.9" y1="245.6" x2="700.9" y2="236.6" stroke="#8c8c8c" stroke-width="0.6"/><rect x="704.5" y="185" width="10.0" height="11" fill="#d2d2d2" stroke="#8c8c8c" stroke-width="0.8" /><line x1="705.5" y1="186" x2="713.5" y2="195" stroke="#8c8c8c" stroke-width="0.6"/><line x1="705.5" y1="195" x2="713.5" y2="186" stroke="#8c8c8c" stroke-width="0.6"/><rect x="647" y="181.5" width="7" height="3.0" fill="#d2d2d2" stroke="#8c8c8c" stroke-width="0.8" /><line x1="648" y1="182.5" x2="653" y2="183.5" stroke="#8c8c8c" stroke-width="0.6"/><line x1="648" y1="183.5" x2="653" y2="182.5" stroke="#8c8c8c" stroke-width="0.6"/><line x1="675" y1="184.5" x2="693" y2="184.5" stroke="#9a9a9a" stroke-width="0.6"/><line x1="675" y1="186.7" x2="693" y2="186.7" stroke="#9a9a9a" stroke-width="0.6"/><line x1="675" y1="188.9" x2="693" y2="188.9" stroke="#9a9a9a" stroke-width="0.6"/><line x1="675" y1="191.1" x2="693" y2="191.1" stroke="#9a9a9a" stroke-width="0.6"/><line x1="675" y1="193.3" x2="693" y2="193.3" stroke="#9a9a9a" stroke-width="0.6"/><line x1="675" y1="195.5" x2="693" y2="195.5" stroke="#9a9a9a" stroke-width="0.6"/><line x1="675" y1="190.5" x2="693" y2="190.5" stroke="#6a6a6a" stroke-width="0.9"/><path d="M693,184 a5,6 0 0 1 0,12" fill="none" stroke="#9a9a9a" stroke-width="0.6"/><line x1="665" y1="186" x2="668" y2="196" stroke="#9a9a9a" stroke-width="0.6"/><line x1="665" y1="186" x2="670" y2="186" stroke="#9a9a9a" stroke-width="0.6"/><line x1="653.0" y1="260.5" x2="653.0" y2="268.5" stroke="#a5a5a5" stroke-width="0.6"/><line x1="656.6" y1="260.5" x2="656.6" y2="268.5" stroke="#a5a5a5" stroke-width="0.6"/><line x1="660.2" y1="260.5" x2="660.2" y2="268.5" stroke="#a5a5a5" stroke-width="0.6"/><line x1="663.8" y1="260.5" x2="663.8" y2="268.5" stroke="#a5a5a5" stroke-width="0.6"/><line x1="667.4" y1="260.5" x2="667.4" y2="268.5" stroke="#a5a5a5" stroke-width="0.6"/><line x1="671.0" y1="260.5" x2="671.0" y2="268.5" stroke="#a5a5a5" stroke-width="0.6"/><line x1="674.6" y1="260.5" x2="674.6" y2="268.5" stroke="#a5a5a5" stroke-width="0.6"/><line x1="678.2" y1="260.5" x2="678.2" y2="268.5" stroke="#a5a5a5" stroke-width="0.6"/><line x1="688.0" y1="260.5" x2="688.0" y2="268.5" stroke="#a5a5a5" stroke-width="0.6"/><line x1="691.6" y1="260.5" x2="691.6" y2="268.5" stroke="#a5a5a5" stroke-width="0.6"/><line x1="695.2" y1="260.5" x2="695.2" y2="268.5" stroke="#a5a5a5" stroke-width="0.6"/><line x1="698.8" y1="260.5" x2="698.8" y2="268.5" stroke="#a5a5a5" stroke-width="0.6"/><line x1="651" y1="260.5" x2="700" y2="260.5" stroke="#a5a5a5" stroke-width="0.6"/><line x1="651" y1="268.5" x2="700" y2="268.5" stroke="#a5a5a5" stroke-width="0.6"/><line x1="648" y1="251.2" x2="651" y2="251.2" stroke="#a0a0a0" stroke-width="0.7"/><line x1="653" y1="251.2" x2="656" y2="251.2" stroke="#a0a0a0" stroke-width="0.7"/><line x1="658" y1="251.2" x2="661" y2="251.2" stroke="#a0a0a0" stroke-width="0.7"/><line x1="663" y1="251.2" x2="666" y2="251.2" stroke="#a0a0a0" stroke-width="0.7"/><line x1="668" y1="251.2" x2="671" y2="251.2" stroke="#a0a0a0" stroke-width="0.7"/><line x1="673" y1="251.2" x2="676" y2="251.2" stroke="#a0a0a0" stroke-width="0.7"/><line x1="678" y1="251.2" x2="681" y2="251.2" stroke="#a0a0a0" stroke-width="0.7"/><line x1="683" y1="251.2" x2="686" y2="251.2" stroke="#a0a0a0" stroke-width="0.7"/><line x1="688" y1="251.2" x2="691" y2="251.2" stroke="#a0a0a0" stroke-width="0.7"/><line x1="693" y1="251.2" x2="696" y2="251.2" stroke="#a0a0a0" stroke-width="0.7"/><line x1="702" y1="256" x2="708" y2="265" stroke="#9a9a9a" stroke-width="0.6"/><line x1="645" y1="255" x2="649" y2="259" stroke="#9a9a9a" stroke-width="0.6"/><line x1="706" y1="270" x2="712" y2="277" stroke="#9a9a9a" stroke-width="0.6"/><line x1="665" y1="286.5" x2="682" y2="286.5" stroke="#9a9a9a" stroke-width="0.6"/><line x1="698" y1="286.5" x2="714.5" y2="286.5" stroke="#9a9a9a" stroke-width="0.6"/><line x1="665" y1="288.9" x2="682" y2="288.9" stroke="#9a9a9a" stroke-width="0.6"/><line x1="698" y1="288.9" x2="714.5" y2="288.9" stroke="#9a9a9a" stroke-width="0.6"/><line x1="665" y1="291.3" x2="682" y2="291.3" stroke="#9a9a9a" stroke-width="0.6"/><line x1="698" y1="291.3" x2="714.5" y2="291.3" stroke="#9a9a9a" stroke-width="0.6"/><line x1="665" y1="293.7" x2="682" y2="293.7" stroke="#9a9a9a" stroke-width="0.6"/><line x1="698" y1="293.7" x2="714.5" y2="293.7" stroke="#9a9a9a" stroke-width="0.6"/><line x1="665" y1="296.1" x2="682" y2="296.1" stroke="#9a9a9a" stroke-width="0.6"/><line x1="698" y1="296.1" x2="714.5" y2="296.1" stroke="#9a9a9a" stroke-width="0.6"/><line x1="665" y1="291.5" x2="682" y2="291.5" stroke="#6a6a6a" stroke-width="0.9"/><line x1="698" y1="291.5" x2="714.5" y2="291.5" stroke="#6a6a6a" stroke-width="0.9"/><line x1="690.8" y1="284" x2="690.8" y2="299" stroke="#9a9a9a" stroke-width="0.6"/><line x1="646" y1="294" x2="654" y2="286" stroke="#9a9a9a" stroke-width="0.6"/><line x1="656" y1="290" x2="660" y2="298" stroke="#a5a5a5" stroke-width="0.6"/><line x1="714" y1="292" x2="720" y2="285" stroke="#9a9a9a" stroke-width="0.6"/><rect x="617.8" y="121.0" width="6.2" height="6.2" fill="#585858" /><rect x="664.6" y="121.0" width="6.2" height="6.2" fill="#585858" /><rect x="711.7" y="121.0" width="6.2" height="6.2" fill="#585858" /><rect x="759" y="120.8" width="6.2" height="6.2" fill="#585858" /><rect x="571" y="138.6" width="6.2" height="6.2" fill="#585858" /><rect x="785" y="138.7" width="6.2" height="6.2" fill="#585858" /><rect x="571" y="192" width="6.2" height="6.2" fill="#585858" /><rect x="785" y="192" width="6.2" height="6.2" fill="#585858" /><rect x="571" y="244.4" width="6.2" height="6.2" fill="#585858" /><rect x="785" y="244.4" width="6.2" height="6.2" fill="#585858" /><rect x="571" y="293.2" width="6.2" height="6.2" fill="#585858" /><rect x="785" y="293.2" width="6.2" height="6.2" fill="#585858" /><rect x="571" y="340.6" width="6.2" height="6.2" fill="#585858" /><rect x="785" y="340.3" width="6.2" height="6.2" fill="#585858" /><rect x="618.0" y="358.0" width="6.2" height="6.2" fill="#585858" /><rect x="665.0" y="358.0" width="6.2" height="6.2" fill="#585858" /><rect x="711.9" y="358.0" width="6.2" height="6.2" fill="#585858" /><rect x="759" y="358.0" width="6.2" height="6.2" fill="#585858" /><circle cx="577.6" cy="148.5" r="1.3" fill="#ffffff" stroke="#d4ccc4" stroke-width="0.4"/><circle cx="577.6" cy="157.9" r="1.3" fill="#ffffff" stroke="#d4ccc4" stroke-width="0.4"/><circle cx="584.9" cy="148.5" r="1.3" fill="#ffffff" stroke="#d4ccc4" stroke-width="0.4"/><circle cx="584.9" cy="157.9" r="1.3" fill="#ffffff" stroke="#d4ccc4" stroke-width="0.4"/><circle cx="592.2" cy="148.5" r="1.3" fill="#ffffff" stroke="#d4ccc4" stroke-width="0.4"/><circle cx="592.2" cy="157.9" r="1.3" fill="#ffffff" stroke="#d4ccc4" stroke-width="0.4"/><rect x="574.0" y="149.7" width="22" height="7" fill="#ffffff" stroke="#cfc7bf" stroke-width="0.5" /><line x1="574.0" y1="153.2" x2="596.0" y2="153.2" stroke="#ddd5ce" stroke-width="0.5"/><line x1="581.3" y1="149.7" x2="581.3" y2="156.7" stroke="#8a8a8a" stroke-width="0.7"/><line x1="588.6" y1="149.7" x2="588.6" y2="156.7" stroke="#8a8a8a" stroke-width="0.7"/><circle cx="768.6" cy="148.5" r="1.3" fill="#ffffff" stroke="#d4ccc4" stroke-width="0.4"/><circle cx="768.6" cy="157.9" r="1.3" fill="#ffffff" stroke="#d4ccc4" stroke-width="0.4"/><circle cx="775.9" cy="148.5" r="1.3" fill="#ffffff" stroke="#d4ccc4" stroke-width="0.4"/><circle cx="775.9" cy="157.9" r="1.3" fill="#ffffff" stroke="#d4ccc4" stroke-width="0.4"/><circle cx="783.2" cy="148.5" r="1.3" fill="#ffffff" stroke="#d4ccc4" stroke-width="0.4"/><circle cx="783.2" cy="157.9" r="1.3" fill="#ffffff" stroke="#d4ccc4" stroke-width="0.4"/><rect x="765.0" y="149.7" width="22" height="7" fill="#ffffff" stroke="#cfc7bf" stroke-width="0.5" /><line x1="765.0" y1="153.2" x2="787.0" y2="153.2" stroke="#ddd5ce" stroke-width="0.5"/><line x1="772.3" y1="149.7" x2="772.3" y2="156.7" stroke="#8a8a8a" stroke-width="0.7"/><line x1="779.6" y1="149.7" x2="779.6" y2="156.7" stroke="#8a8a8a" stroke-width="0.7"/><circle cx="577.6" cy="162.9" r="1.3" fill="#ffffff" stroke="#d4ccc4" stroke-width="0.4"/><circle cx="577.6" cy="172.3" r="1.3" fill="#ffffff" stroke="#d4ccc4" stroke-width="0.4"/><circle cx="584.9" cy="162.9" r="1.3" fill="#ffffff" stroke="#d4ccc4" stroke-width="0.4"/><circle cx="584.9" cy="172.3" r="1.3" fill="#ffffff" stroke="#d4ccc4" stroke-width="0.4"/><circle cx="592.2" cy="162.9" r="1.3" fill="#ffffff" stroke="#d4ccc4" stroke-width="0.4"/><circle cx="592.2" cy="172.3" r="1.3" fill="#ffffff" stroke="#d4ccc4" stroke-width="0.4"/><rect x="574.0" y="164.1" width="22" height="7" fill="#ffffff" stroke="#cfc7bf" stroke-width="0.5" /><line x1="574.0" y1="167.6" x2="596.0" y2="167.6" stroke="#ddd5ce" stroke-width="0.5"/><line x1="581.3" y1="164.1" x2="581.3" y2="171.1" stroke="#8a8a8a" stroke-width="0.7"/><line x1="588.6" y1="164.1" x2="588.6" y2="171.1" stroke="#8a8a8a" stroke-width="0.7"/><circle cx="768.6" cy="162.9" r="1.3" fill="#ffffff" stroke="#d4ccc4" stroke-width="0.4"/><circle cx="768.6" cy="172.3" r="1.3" fill="#ffffff" stroke="#d4ccc4" stroke-width="0.4"/><circle cx="775.9" cy="162.9" r="1.3" fill="#ffffff" stroke="#d4ccc4" stroke-width="0.4"/><circle cx="775.9" cy="172.3" r="1.3" fill="#ffffff" stroke="#d4ccc4" stroke-width="0.4"/><circle cx="783.2" cy="162.9" r="1.3" fill="#ffffff" stroke="#d4ccc4" stroke-width="0.4"/><circle cx="783.2" cy="172.3" r="1.3" fill="#ffffff" stroke="#d4ccc4" stroke-width="0.4"/><rect x="765.0" y="164.1" width="22" height="7" fill="#ffffff" stroke="#cfc7bf" stroke-width="0.5" /><line x1="765.0" y1="167.6" x2="787.0" y2="167.6" stroke="#ddd5ce" stroke-width="0.5"/><line x1="772.3" y1="164.1" x2="772.3" y2="171.1" stroke="#8a8a8a" stroke-width="0.7"/><line x1="779.6" y1="164.1" x2="779.6" y2="171.1" stroke="#8a8a8a" stroke-width="0.7"/><circle cx="577.6" cy="177.3" r="1.3" fill="#ffffff" stroke="#d4ccc4" stroke-width="0.4"/><circle cx="577.6" cy="186.7" r="1.3" fill="#ffffff" stroke="#d4ccc4" stroke-width="0.4"/><circle cx="584.9" cy="177.3" r="1.3" fill="#ffffff" stroke="#d4ccc4" stroke-width="0.4"/><circle cx="584.9" cy="186.7" r="1.3" fill="#ffffff" stroke="#d4ccc4" stroke-width="0.4"/><circle cx="592.2" cy="177.3" r="1.3" fill="#ffffff" stroke="#d4ccc4" stroke-width="0.4"/><circle cx="592.2" cy="186.7" r="1.3" fill="#ffffff" stroke="#d4ccc4" stroke-width="0.4"/><rect x="574.0" y="178.5" width="22" height="7" fill="#ffffff" stroke="#cfc7bf" stroke-width="0.5" /><line x1="574.0" y1="182.0" x2="596.0" y2="182.0" stroke="#ddd5ce" stroke-width="0.5"/><line x1="581.3" y1="178.5" x2="581.3" y2="185.5" stroke="#8a8a8a" stroke-width="0.7"/><line x1="588.6" y1="178.5" x2="588.6" y2="185.5" stroke="#8a8a8a" stroke-width="0.7"/><circle cx="768.6" cy="177.3" r="1.3" fill="#ffffff" stroke="#d4ccc4" stroke-width="0.4"/><circle cx="768.6" cy="186.7" r="1.3" fill="#ffffff" stroke="#d4ccc4" stroke-width="0.4"/><circle cx="775.9" cy="177.3" r="1.3" fill="#ffffff" stroke="#d4ccc4" stroke-width="0.4"/><circle cx="775.9" cy="186.7" r="1.3" fill="#ffffff" stroke="#d4ccc4" stroke-width="0.4"/><circle cx="783.2" cy="177.3" r="1.3" fill="#ffffff" stroke="#d4ccc4" stroke-width="0.4"/><circle cx="783.2" cy="186.7" r="1.3" fill="#ffffff" stroke="#d4ccc4" stroke-width="0.4"/><rect x="765.0" y="178.5" width="22" height="7" fill="#ffffff" stroke="#cfc7bf" stroke-width="0.5" /><line x1="765.0" y1="182.0" x2="787.0" y2="182.0" stroke="#ddd5ce" stroke-width="0.5"/><line x1="772.3" y1="178.5" x2="772.3" y2="185.5" stroke="#8a8a8a" stroke-width="0.7"/><line x1="779.6" y1="178.5" x2="779.6" y2="185.5" stroke="#8a8a8a" stroke-width="0.7"/><circle cx="577.6" cy="201.7" r="1.3" fill="#ffffff" stroke="#d4ccc4" stroke-width="0.4"/><circle cx="577.6" cy="211.1" r="1.3" fill="#ffffff" stroke="#d4ccc4" stroke-width="0.4"/><circle cx="584.9" cy="201.7" r="1.3" fill="#ffffff" stroke="#d4ccc4" stroke-width="0.4"/><circle cx="584.9" cy="211.1" r="1.3" fill="#ffffff" stroke="#d4ccc4" stroke-width="0.4"/><circle cx="592.2" cy="201.7" r="1.3" fill="#ffffff" stroke="#d4ccc4" stroke-width="0.4"/><circle cx="592.2" cy="211.1" r="1.3" fill="#ffffff" stroke="#d4ccc4" stroke-width="0.4"/><rect x="574.0" y="202.9" width="22" height="7" fill="#ffffff" stroke="#cfc7bf" stroke-width="0.5" /><line x1="574.0" y1="206.4" x2="596.0" y2="206.4" stroke="#ddd5ce" stroke-width="0.5"/><line x1="581.3" y1="202.9" x2="581.3" y2="209.9" stroke="#8a8a8a" stroke-width="0.7"/><line x1="588.6" y1="202.9" x2="588.6" y2="209.9" stroke="#8a8a8a" stroke-width="0.7"/><circle cx="768.6" cy="201.7" r="1.3" fill="#ffffff" stroke="#d4ccc4" stroke-width="0.4"/><circle cx="768.6" cy="211.1" r="1.3" fill="#ffffff" stroke="#d4ccc4" stroke-width="0.4"/><circle cx="775.9" cy="201.7" r="1.3" fill="#ffffff" stroke="#d4ccc4" stroke-width="0.4"/><circle cx="775.9" cy="211.1" r="1.3" fill="#ffffff" stroke="#d4ccc4" stroke-width="0.4"/><circle cx="783.2" cy="201.7" r="1.3" fill="#ffffff" stroke="#d4ccc4" stroke-width="0.4"/><circle cx="783.2" cy="211.1" r="1.3" fill="#ffffff" stroke="#d4ccc4" stroke-width="0.4"/><rect x="765.0" y="202.9" width="22" height="7" fill="#ffffff" stroke="#cfc7bf" stroke-width="0.5" /><line x1="765.0" y1="206.4" x2="787.0" y2="206.4" stroke="#ddd5ce" stroke-width="0.5"/><line x1="772.3" y1="202.9" x2="772.3" y2="209.9" stroke="#8a8a8a" stroke-width="0.7"/><line x1="779.6" y1="202.9" x2="779.6" y2="209.9" stroke="#8a8a8a" stroke-width="0.7"/><circle cx="577.6" cy="216.0" r="1.3" fill="#ffffff" stroke="#d4ccc4" stroke-width="0.4"/><circle cx="577.6" cy="225.4" r="1.3" fill="#ffffff" stroke="#d4ccc4" stroke-width="0.4"/><circle cx="584.9" cy="216.0" r="1.3" fill="#ffffff" stroke="#d4ccc4" stroke-width="0.4"/><circle cx="584.9" cy="225.4" r="1.3" fill="#ffffff" stroke="#d4ccc4" stroke-width="0.4"/><circle cx="592.2" cy="216.0" r="1.3" fill="#ffffff" stroke="#d4ccc4" stroke-width="0.4"/><circle cx="592.2" cy="225.4" r="1.3" fill="#ffffff" stroke="#d4ccc4" stroke-width="0.4"/><rect x="574.0" y="217.2" width="22" height="7" fill="#ffffff" stroke="#cfc7bf" stroke-width="0.5" /><line x1="574.0" y1="220.7" x2="596.0" y2="220.7" stroke="#ddd5ce" stroke-width="0.5"/><line x1="581.3" y1="217.2" x2="581.3" y2="224.2" stroke="#8a8a8a" stroke-width="0.7"/><line x1="588.6" y1="217.2" x2="588.6" y2="224.2" stroke="#8a8a8a" stroke-width="0.7"/><circle cx="768.6" cy="216.0" r="1.3" fill="#ffffff" stroke="#d4ccc4" stroke-width="0.4"/><circle cx="768.6" cy="225.4" r="1.3" fill="#ffffff" stroke="#d4ccc4" stroke-width="0.4"/><circle cx="775.9" cy="216.0" r="1.3" fill="#ffffff" stroke="#d4ccc4" stroke-width="0.4"/><circle cx="775.9" cy="225.4" r="1.3" fill="#ffffff" stroke="#d4ccc4" stroke-width="0.4"/><circle cx="783.2" cy="216.0" r="1.3" fill="#ffffff" stroke="#d4ccc4" stroke-width="0.4"/><circle cx="783.2" cy="225.4" r="1.3" fill="#ffffff" stroke="#d4ccc4" stroke-width="0.4"/><rect x="765.0" y="217.2" width="22" height="7" fill="#ffffff" stroke="#cfc7bf" stroke-width="0.5" /><line x1="765.0" y1="220.7" x2="787.0" y2="220.7" stroke="#ddd5ce" stroke-width="0.5"/><line x1="772.3" y1="217.2" x2="772.3" y2="224.2" stroke="#8a8a8a" stroke-width="0.7"/><line x1="779.6" y1="217.2" x2="779.6" y2="224.2" stroke="#8a8a8a" stroke-width="0.7"/><circle cx="577.6" cy="230.4" r="1.3" fill="#ffffff" stroke="#d4ccc4" stroke-width="0.4"/><circle cx="577.6" cy="239.8" r="1.3" fill="#ffffff" stroke="#d4ccc4" stroke-width="0.4"/><circle cx="584.9" cy="230.4" r="1.3" fill="#ffffff" stroke="#d4ccc4" stroke-width="0.4"/><circle cx="584.9" cy="239.8" r="1.3" fill="#ffffff" stroke="#d4ccc4" stroke-width="0.4"/><circle cx="592.2" cy="230.4" r="1.3" fill="#ffffff" stroke="#d4ccc4" stroke-width="0.4"/><circle cx="592.2" cy="239.8" r="1.3" fill="#ffffff" stroke="#d4ccc4" stroke-width="0.4"/><rect x="574.0" y="231.6" width="22" height="7" fill="#ffffff" stroke="#cfc7bf" stroke-width="0.5" /><line x1="574.0" y1="235.1" x2="596.0" y2="235.1" stroke="#ddd5ce" stroke-width="0.5"/><line x1="581.3" y1="231.6" x2="581.3" y2="238.6" stroke="#8a8a8a" stroke-width="0.7"/><line x1="588.6" y1="231.6" x2="588.6" y2="238.6" stroke="#8a8a8a" stroke-width="0.7"/><circle cx="768.6" cy="230.4" r="1.3" fill="#ffffff" stroke="#d4ccc4" stroke-width="0.4"/><circle cx="768.6" cy="239.8" r="1.3" fill="#ffffff" stroke="#d4ccc4" stroke-width="0.4"/><circle cx="775.9" cy="230.4" r="1.3" fill="#ffffff" stroke="#d4ccc4" stroke-width="0.4"/><circle cx="775.9" cy="239.8" r="1.3" fill="#ffffff" stroke="#d4ccc4" stroke-width="0.4"/><circle cx="783.2" cy="230.4" r="1.3" fill="#ffffff" stroke="#d4ccc4" stroke-width="0.4"/><circle cx="783.2" cy="239.8" r="1.3" fill="#ffffff" stroke="#d4ccc4" stroke-width="0.4"/><rect x="765.0" y="231.6" width="22" height="7" fill="#ffffff" stroke="#cfc7bf" stroke-width="0.5" /><line x1="765.0" y1="235.1" x2="787.0" y2="235.1" stroke="#ddd5ce" stroke-width="0.5"/><line x1="772.3" y1="231.6" x2="772.3" y2="238.6" stroke="#8a8a8a" stroke-width="0.7"/><line x1="779.6" y1="231.6" x2="779.6" y2="238.6" stroke="#8a8a8a" stroke-width="0.7"/><circle cx="577.6" cy="254.3" r="1.3" fill="#ffffff" stroke="#d4ccc4" stroke-width="0.4"/><circle cx="577.6" cy="263.7" r="1.3" fill="#ffffff" stroke="#d4ccc4" stroke-width="0.4"/><circle cx="584.9" cy="254.3" r="1.3" fill="#ffffff" stroke="#d4ccc4" stroke-width="0.4"/><circle cx="584.9" cy="263.7" r="1.3" fill="#ffffff" stroke="#d4ccc4" stroke-width="0.4"/><circle cx="592.2" cy="254.3" r="1.3" fill="#ffffff" stroke="#d4ccc4" stroke-width="0.4"/><circle cx="592.2" cy="263.7" r="1.3" fill="#ffffff" stroke="#d4ccc4" stroke-width="0.4"/><rect x="574.0" y="255.5" width="22" height="7" fill="#ffffff" stroke="#cfc7bf" stroke-width="0.5" /><line x1="574.0" y1="259.0" x2="596.0" y2="259.0" stroke="#ddd5ce" stroke-width="0.5"/><line x1="581.3" y1="255.5" x2="581.3" y2="262.5" stroke="#8a8a8a" stroke-width="0.7"/><line x1="588.6" y1="255.5" x2="588.6" y2="262.5" stroke="#8a8a8a" stroke-width="0.7"/><circle cx="768.6" cy="254.3" r="1.3" fill="#ffffff" stroke="#d4ccc4" stroke-width="0.4"/><circle cx="768.6" cy="263.7" r="1.3" fill="#ffffff" stroke="#d4ccc4" stroke-width="0.4"/><circle cx="775.9" cy="254.3" r="1.3" fill="#ffffff" stroke="#d4ccc4" stroke-width="0.4"/><circle cx="775.9" cy="263.7" r="1.3" fill="#ffffff" stroke="#d4ccc4" stroke-width="0.4"/><circle cx="783.2" cy="254.3" r="1.3" fill="#ffffff" stroke="#d4ccc4" stroke-width="0.4"/><circle cx="783.2" cy="263.7" r="1.3" fill="#ffffff" stroke="#d4ccc4" stroke-width="0.4"/><rect x="765.0" y="255.5" width="22" height="7" fill="#ffffff" stroke="#cfc7bf" stroke-width="0.5" /><line x1="765.0" y1="259.0" x2="787.0" y2="259.0" stroke="#ddd5ce" stroke-width="0.5"/><line x1="772.3" y1="255.5" x2="772.3" y2="262.5" stroke="#8a8a8a" stroke-width="0.7"/><line x1="779.6" y1="255.5" x2="779.6" y2="262.5" stroke="#8a8a8a" stroke-width="0.7"/><circle cx="577.6" cy="268.7" r="1.3" fill="#ffffff" stroke="#d4ccc4" stroke-width="0.4"/><circle cx="577.6" cy="278.1" r="1.3" fill="#ffffff" stroke="#d4ccc4" stroke-width="0.4"/><circle cx="584.9" cy="268.7" r="1.3" fill="#ffffff" stroke="#d4ccc4" stroke-width="0.4"/><circle cx="584.9" cy="278.1" r="1.3" fill="#ffffff" stroke="#d4ccc4" stroke-width="0.4"/><circle cx="592.2" cy="268.7" r="1.3" fill="#ffffff" stroke="#d4ccc4" stroke-width="0.4"/><circle cx="592.2" cy="278.1" r="1.3" fill="#ffffff" stroke="#d4ccc4" stroke-width="0.4"/><rect x="574.0" y="269.9" width="22" height="7" fill="#ffffff" stroke="#cfc7bf" stroke-width="0.5" /><line x1="574.0" y1="273.4" x2="596.0" y2="273.4" stroke="#ddd5ce" stroke-width="0.5"/><line x1="581.3" y1="269.9" x2="581.3" y2="276.9" stroke="#8a8a8a" stroke-width="0.7"/><line x1="588.6" y1="269.9" x2="588.6" y2="276.9" stroke="#8a8a8a" stroke-width="0.7"/><circle cx="768.6" cy="268.7" r="1.3" fill="#ffffff" stroke="#d4ccc4" stroke-width="0.4"/><circle cx="768.6" cy="278.1" r="1.3" fill="#ffffff" stroke="#d4ccc4" stroke-width="0.4"/><circle cx="775.9" cy="268.7" r="1.3" fill="#ffffff" stroke="#d4ccc4" stroke-width="0.4"/><circle cx="775.9" cy="278.1" r="1.3" fill="#ffffff" stroke="#d4ccc4" stroke-width="0.4"/><circle cx="783.2" cy="268.7" r="1.3" fill="#ffffff" stroke="#d4ccc4" stroke-width="0.4"/><circle cx="783.2" cy="278.1" r="1.3" fill="#ffffff" stroke="#d4ccc4" stroke-width="0.4"/><rect x="765.0" y="269.9" width="22" height="7" fill="#ffffff" stroke="#cfc7bf" stroke-width="0.5" /><line x1="765.0" y1="273.4" x2="787.0" y2="273.4" stroke="#ddd5ce" stroke-width="0.5"/><line x1="772.3" y1="269.9" x2="772.3" y2="276.9" stroke="#8a8a8a" stroke-width="0.7"/><line x1="779.6" y1="269.9" x2="779.6" y2="276.9" stroke="#8a8a8a" stroke-width="0.7"/><circle cx="577.6" cy="283.1" r="1.3" fill="#ffffff" stroke="#d4ccc4" stroke-width="0.4"/><circle cx="577.6" cy="292.5" r="1.3" fill="#ffffff" stroke="#d4ccc4" stroke-width="0.4"/><circle cx="584.9" cy="283.1" r="1.3" fill="#ffffff" stroke="#d4ccc4" stroke-width="0.4"/><circle cx="584.9" cy="292.5" r="1.3" fill="#ffffff" stroke="#d4ccc4" stroke-width="0.4"/><circle cx="592.2" cy="283.1" r="1.3" fill="#ffffff" stroke="#d4ccc4" stroke-width="0.4"/><circle cx="592.2" cy="292.5" r="1.3" fill="#ffffff" stroke="#d4ccc4" stroke-width="0.4"/><rect x="574.0" y="284.3" width="22" height="7" fill="#ffffff" stroke="#cfc7bf" stroke-width="0.5" /><line x1="574.0" y1="287.8" x2="596.0" y2="287.8" stroke="#ddd5ce" stroke-width="0.5"/><line x1="581.3" y1="284.3" x2="581.3" y2="291.3" stroke="#8a8a8a" stroke-width="0.7"/><line x1="588.6" y1="284.3" x2="588.6" y2="291.3" stroke="#8a8a8a" stroke-width="0.7"/><circle cx="768.6" cy="283.1" r="1.3" fill="#ffffff" stroke="#d4ccc4" stroke-width="0.4"/><circle cx="768.6" cy="292.5" r="1.3" fill="#ffffff" stroke="#d4ccc4" stroke-width="0.4"/><circle cx="775.9" cy="283.1" r="1.3" fill="#ffffff" stroke="#d4ccc4" stroke-width="0.4"/><circle cx="775.9" cy="292.5" r="1.3" fill="#ffffff" stroke="#d4ccc4" stroke-width="0.4"/><circle cx="783.2" cy="283.1" r="1.3" fill="#ffffff" stroke="#d4ccc4" stroke-width="0.4"/><circle cx="783.2" cy="292.5" r="1.3" fill="#ffffff" stroke="#d4ccc4" stroke-width="0.4"/><rect x="765.0" y="284.3" width="22" height="7" fill="#ffffff" stroke="#cfc7bf" stroke-width="0.5" /><line x1="765.0" y1="287.8" x2="787.0" y2="287.8" stroke="#ddd5ce" stroke-width="0.5"/><line x1="772.3" y1="284.3" x2="772.3" y2="291.3" stroke="#8a8a8a" stroke-width="0.7"/><line x1="779.6" y1="284.3" x2="779.6" y2="291.3" stroke="#8a8a8a" stroke-width="0.7"/><circle cx="577.6" cy="302.0" r="1.3" fill="#ffffff" stroke="#d4ccc4" stroke-width="0.4"/><circle cx="577.6" cy="311.4" r="1.3" fill="#ffffff" stroke="#d4ccc4" stroke-width="0.4"/><circle cx="584.9" cy="302.0" r="1.3" fill="#ffffff" stroke="#d4ccc4" stroke-width="0.4"/><circle cx="584.9" cy="311.4" r="1.3" fill="#ffffff" stroke="#d4ccc4" stroke-width="0.4"/><circle cx="592.2" cy="302.0" r="1.3" fill="#ffffff" stroke="#d4ccc4" stroke-width="0.4"/><circle cx="592.2" cy="311.4" r="1.3" fill="#ffffff" stroke="#d4ccc4" stroke-width="0.4"/><rect x="574.0" y="303.2" width="22" height="7" fill="#ffffff" stroke="#cfc7bf" stroke-width="0.5" /><line x1="574.0" y1="306.7" x2="596.0" y2="306.7" stroke="#ddd5ce" stroke-width="0.5"/><line x1="581.3" y1="303.2" x2="581.3" y2="310.2" stroke="#8a8a8a" stroke-width="0.7"/><line x1="588.6" y1="303.2" x2="588.6" y2="310.2" stroke="#8a8a8a" stroke-width="0.7"/><circle cx="768.6" cy="302.0" r="1.3" fill="#ffffff" stroke="#d4ccc4" stroke-width="0.4"/><circle cx="768.6" cy="311.4" r="1.3" fill="#ffffff" stroke="#d4ccc4" stroke-width="0.4"/><circle cx="775.9" cy="302.0" r="1.3" fill="#ffffff" stroke="#d4ccc4" stroke-width="0.4"/><circle cx="775.9" cy="311.4" r="1.3" fill="#ffffff" stroke="#d4ccc4" stroke-width="0.4"/><circle cx="783.2" cy="302.0" r="1.3" fill="#ffffff" stroke="#d4ccc4" stroke-width="0.4"/><circle cx="783.2" cy="311.4" r="1.3" fill="#ffffff" stroke="#d4ccc4" stroke-width="0.4"/><rect x="765.0" y="303.2" width="22" height="7" fill="#ffffff" stroke="#cfc7bf" stroke-width="0.5" /><line x1="765.0" y1="306.7" x2="787.0" y2="306.7" stroke="#ddd5ce" stroke-width="0.5"/><line x1="772.3" y1="303.2" x2="772.3" y2="310.2" stroke="#8a8a8a" stroke-width="0.7"/><line x1="779.6" y1="303.2" x2="779.6" y2="310.2" stroke="#8a8a8a" stroke-width="0.7"/><circle cx="577.6" cy="316.4" r="1.3" fill="#ffffff" stroke="#d4ccc4" stroke-width="0.4"/><circle cx="577.6" cy="325.8" r="1.3" fill="#ffffff" stroke="#d4ccc4" stroke-width="0.4"/><circle cx="584.9" cy="316.4" r="1.3" fill="#ffffff" stroke="#d4ccc4" stroke-width="0.4"/><circle cx="584.9" cy="325.8" r="1.3" fill="#ffffff" stroke="#d4ccc4" stroke-width="0.4"/><circle cx="592.2" cy="316.4" r="1.3" fill="#ffffff" stroke="#d4ccc4" stroke-width="0.4"/><circle cx="592.2" cy="325.8" r="1.3" fill="#ffffff" stroke="#d4ccc4" stroke-width="0.4"/><rect x="574.0" y="317.6" width="22" height="7" fill="#ffffff" stroke="#cfc7bf" stroke-width="0.5" /><line x1="574.0" y1="321.1" x2="596.0" y2="321.1" stroke="#ddd5ce" stroke-width="0.5"/><line x1="581.3" y1="317.6" x2="581.3" y2="324.6" stroke="#8a8a8a" stroke-width="0.7"/><line x1="588.6" y1="317.6" x2="588.6" y2="324.6" stroke="#8a8a8a" stroke-width="0.7"/><circle cx="768.6" cy="316.4" r="1.3" fill="#ffffff" stroke="#d4ccc4" stroke-width="0.4"/><circle cx="768.6" cy="325.8" r="1.3" fill="#ffffff" stroke="#d4ccc4" stroke-width="0.4"/><circle cx="775.9" cy="316.4" r="1.3" fill="#ffffff" stroke="#d4ccc4" stroke-width="0.4"/><circle cx="775.9" cy="325.8" r="1.3" fill="#ffffff" stroke="#d4ccc4" stroke-width="0.4"/><circle cx="783.2" cy="316.4" r="1.3" fill="#ffffff" stroke="#d4ccc4" stroke-width="0.4"/><circle cx="783.2" cy="325.8" r="1.3" fill="#ffffff" stroke="#d4ccc4" stroke-width="0.4"/><rect x="765.0" y="317.6" width="22" height="7" fill="#ffffff" stroke="#cfc7bf" stroke-width="0.5" /><line x1="765.0" y1="321.1" x2="787.0" y2="321.1" stroke="#ddd5ce" stroke-width="0.5"/><line x1="772.3" y1="317.6" x2="772.3" y2="324.6" stroke="#8a8a8a" stroke-width="0.7"/><line x1="779.6" y1="317.6" x2="779.6" y2="324.6" stroke="#8a8a8a" stroke-width="0.7"/><circle cx="577.6" cy="330.8" r="1.3" fill="#ffffff" stroke="#d4ccc4" stroke-width="0.4"/><circle cx="577.6" cy="340.2" r="1.3" fill="#ffffff" stroke="#d4ccc4" stroke-width="0.4"/><circle cx="584.9" cy="330.8" r="1.3" fill="#ffffff" stroke="#d4ccc4" stroke-width="0.4"/><circle cx="584.9" cy="340.2" r="1.3" fill="#ffffff" stroke="#d4ccc4" stroke-width="0.4"/><circle cx="592.2" cy="330.8" r="1.3" fill="#ffffff" stroke="#d4ccc4" stroke-width="0.4"/><circle cx="592.2" cy="340.2" r="1.3" fill="#ffffff" stroke="#d4ccc4" stroke-width="0.4"/><rect x="574.0" y="332.0" width="22" height="7" fill="#ffffff" stroke="#cfc7bf" stroke-width="0.5" /><line x1="574.0" y1="335.5" x2="596.0" y2="335.5" stroke="#ddd5ce" stroke-width="0.5"/><line x1="581.3" y1="332.0" x2="581.3" y2="339.0" stroke="#8a8a8a" stroke-width="0.7"/><line x1="588.6" y1="332.0" x2="588.6" y2="339.0" stroke="#8a8a8a" stroke-width="0.7"/><circle cx="768.6" cy="330.8" r="1.3" fill="#ffffff" stroke="#d4ccc4" stroke-width="0.4"/><circle cx="768.6" cy="340.2" r="1.3" fill="#ffffff" stroke="#d4ccc4" stroke-width="0.4"/><circle cx="775.9" cy="330.8" r="1.3" fill="#ffffff" stroke="#d4ccc4" stroke-width="0.4"/><circle cx="775.9" cy="340.2" r="1.3" fill="#ffffff" stroke="#d4ccc4" stroke-width="0.4"/><circle cx="783.2" cy="330.8" r="1.3" fill="#ffffff" stroke="#d4ccc4" stroke-width="0.4"/><circle cx="783.2" cy="340.2" r="1.3" fill="#ffffff" stroke="#d4ccc4" stroke-width="0.4"/><rect x="765.0" y="332.0" width="22" height="7" fill="#ffffff" stroke="#cfc7bf" stroke-width="0.5" /><line x1="765.0" y1="335.5" x2="787.0" y2="335.5" stroke="#ddd5ce" stroke-width="0.5"/><line x1="772.3" y1="332.0" x2="772.3" y2="339.0" stroke="#8a8a8a" stroke-width="0.7"/><line x1="779.6" y1="332.0" x2="779.6" y2="339.0" stroke="#8a8a8a" stroke-width="0.7"/><rect x="605.8" y="153.1" width="4.6" height="29.30000000000001" fill="#ffffff" stroke="#cfc7bf" stroke-width="0.5" /><line x1="608.0999999999999" y1="153.1" x2="608.0999999999999" y2="182.4" stroke="#e2dbd4" stroke-width="0.5"/><line x1="605.8" y1="167.75" x2="610.4" y2="167.75" stroke="#cfc7bf" stroke-width="0.5"/><rect x="750.2" y="153.1" width="4.6" height="29.30000000000001" fill="#ffffff" stroke="#cfc7bf" stroke-width="0.5" /><line x1="752.5" y1="153.1" x2="752.5" y2="182.4" stroke="#e2dbd4" stroke-width="0.5"/><line x1="750.2" y1="167.75" x2="754.8000000000001" y2="167.75" stroke="#cfc7bf" stroke-width="0.5"/><rect x="605.8" y="205.4" width="4.6" height="28.799999999999983" fill="#ffffff" stroke="#cfc7bf" stroke-width="0.5" /><line x1="608.0999999999999" y1="205.4" x2="608.0999999999999" y2="234.2" stroke="#e2dbd4" stroke-width="0.5"/><line x1="605.8" y1="219.8" x2="610.4" y2="219.8" stroke="#cfc7bf" stroke-width="0.5"/><rect x="750.2" y="205.4" width="4.6" height="28.799999999999983" fill="#ffffff" stroke="#cfc7bf" stroke-width="0.5" /><line x1="752.5" y1="205.4" x2="752.5" y2="234.2" stroke="#e2dbd4" stroke-width="0.5"/><line x1="750.2" y1="219.8" x2="754.8000000000001" y2="219.8" stroke="#cfc7bf" stroke-width="0.5"/><rect x="605.8" y="258.6" width="4.6" height="29.0" fill="#ffffff" stroke="#cfc7bf" stroke-width="0.5" /><line x1="608.0999999999999" y1="258.6" x2="608.0999999999999" y2="287.6" stroke="#e2dbd4" stroke-width="0.5"/><line x1="605.8" y1="273.1" x2="610.4" y2="273.1" stroke="#cfc7bf" stroke-width="0.5"/><rect x="750.2" y="258.6" width="4.6" height="29.0" fill="#ffffff" stroke="#cfc7bf" stroke-width="0.5" /><line x1="752.5" y1="258.6" x2="752.5" y2="287.6" stroke="#e2dbd4" stroke-width="0.5"/><line x1="750.2" y1="273.1" x2="754.8000000000001" y2="273.1" stroke="#cfc7bf" stroke-width="0.5"/><rect x="605.8" y="306.2" width="4.6" height="29.100000000000023" fill="#ffffff" stroke="#cfc7bf" stroke-width="0.5" /><line x1="608.0999999999999" y1="306.2" x2="608.0999999999999" y2="335.3" stroke="#e2dbd4" stroke-width="0.5"/><line x1="605.8" y1="320.75" x2="610.4" y2="320.75" stroke="#cfc7bf" stroke-width="0.5"/><rect x="750.2" y="306.2" width="4.6" height="29.100000000000023" fill="#ffffff" stroke="#cfc7bf" stroke-width="0.5" /><line x1="752.5" y1="306.2" x2="752.5" y2="335.3" stroke="#e2dbd4" stroke-width="0.5"/><line x1="750.2" y1="320.75" x2="754.8000000000001" y2="320.75" stroke="#cfc7bf" stroke-width="0.5"/><rect x="632" y="152.8" width="28.899999999999977" height="4.8" fill="#ffffff" stroke="#cfc7bf" stroke-width="0.5" /><line x1="632" y1="155.20000000000002" x2="660.9" y2="155.20000000000002" stroke="#e2dbd4" stroke-width="0.5"/><line x1="646.45" y1="152.8" x2="646.45" y2="157.60000000000002" stroke="#cfc7bf" stroke-width="0.5"/><rect x="626.5" y="330.8" width="29.600000000000023" height="4.8" fill="#ffffff" stroke="#cfc7bf" stroke-width="0.5" /><line x1="626.5" y1="333.2" x2="656.1" y2="333.2" stroke="#e2dbd4" stroke-width="0.5"/><line x1="641.3" y1="330.8" x2="641.3" y2="335.6" stroke="#cfc7bf" stroke-width="0.5"/><circle cx="636.8" cy="122.9" r="1.2" fill="#ffffff" stroke="#d4ccc4" stroke-width="0.4"/><circle cx="636.8" cy="130.7" r="1.2" fill="#ffffff" stroke="#d4ccc4" stroke-width="0.4"/><circle cx="640.4" cy="122.9" r="1.2" fill="#ffffff" stroke="#d4ccc4" stroke-width="0.4"/><circle cx="640.4" cy="130.7" r="1.2" fill="#ffffff" stroke="#d4ccc4" stroke-width="0.4"/><circle cx="644.1" cy="122.9" r="1.2" fill="#ffffff" stroke="#d4ccc4" stroke-width="0.4"/><circle cx="644.1" cy="130.7" r="1.2" fill="#ffffff" stroke="#d4ccc4" stroke-width="0.4"/><circle cx="647.8" cy="122.9" r="1.2" fill="#ffffff" stroke="#d4ccc4" stroke-width="0.4"/><circle cx="647.8" cy="130.7" r="1.2" fill="#ffffff" stroke="#d4ccc4" stroke-width="0.4"/><circle cx="651.4" cy="122.9" r="1.2" fill="#ffffff" stroke="#d4ccc4" stroke-width="0.4"/><circle cx="651.4" cy="130.7" r="1.2" fill="#ffffff" stroke="#d4ccc4" stroke-width="0.4"/><circle cx="633.5" cy="126.8" r="1.2" fill="#ffffff" stroke="#d4ccc4" stroke-width="0.4"/><circle cx="654.7" cy="126.8" r="1.2" fill="#ffffff" stroke="#d4ccc4" stroke-width="0.4"/><rect x="634.8" y="124.2" width="18.600000000000023" height="5.200000000000003" fill="#ffffff" stroke="#d4ccc4" stroke-width="0.5" /><circle cx="637.0" cy="351.0" r="1.2" fill="#ffffff" stroke="#d4ccc4" stroke-width="0.4"/><circle cx="637.0" cy="358.8" r="1.2" fill="#ffffff" stroke="#d4ccc4" stroke-width="0.4"/><circle cx="640.5" cy="351.0" r="1.2" fill="#ffffff" stroke="#d4ccc4" stroke-width="0.4"/><circle cx="640.5" cy="358.8" r="1.2" fill="#ffffff" stroke="#d4ccc4" stroke-width="0.4"/><circle cx="644.1" cy="351.0" r="1.2" fill="#ffffff" stroke="#d4ccc4" stroke-width="0.4"/><circle cx="644.1" cy="358.8" r="1.2" fill="#ffffff" stroke="#d4ccc4" stroke-width="0.4"/><circle cx="647.7" cy="351.0" r="1.2" fill="#ffffff" stroke="#d4ccc4" stroke-width="0.4"/><circle cx="647.7" cy="358.8" r="1.2" fill="#ffffff" stroke="#d4ccc4" stroke-width="0.4"/><circle cx="651.2" cy="351.0" r="1.2" fill="#ffffff" stroke="#d4ccc4" stroke-width="0.4"/><circle cx="651.2" cy="358.8" r="1.2" fill="#ffffff" stroke="#d4ccc4" stroke-width="0.4"/><circle cx="633.7" cy="354.9" r="1.2" fill="#ffffff" stroke="#d4ccc4" stroke-width="0.4"/><circle cx="654.5" cy="354.9" r="1.2" fill="#ffffff" stroke="#d4ccc4" stroke-width="0.4"/><rect x="635.0" y="352.3" width="18.200000000000045" height="5.199999999999989" fill="#ffffff" stroke="#d4ccc4" stroke-width="0.5" /><circle cx="727.8" cy="332.8" r="1.2" fill="#ffffff" stroke="#d4ccc4" stroke-width="0.4"/><circle cx="736.0" cy="332.8" r="1.2" fill="#ffffff" stroke="#d4ccc4" stroke-width="0.4"/><circle cx="727.8" cy="336.3" r="1.2" fill="#ffffff" stroke="#d4ccc4" stroke-width="0.4"/><circle cx="736.0" cy="336.3" r="1.2" fill="#ffffff" stroke="#d4ccc4" stroke-width="0.4"/><circle cx="727.8" cy="339.9" r="1.2" fill="#ffffff" stroke="#d4ccc4" stroke-width="0.4"/><circle cx="736.0" cy="339.9" r="1.2" fill="#ffffff" stroke="#d4ccc4" stroke-width="0.4"/><circle cx="727.8" cy="343.4" r="1.2" fill="#ffffff" stroke="#d4ccc4" stroke-width="0.4"/><circle cx="736.0" cy="343.4" r="1.2" fill="#ffffff" stroke="#d4ccc4" stroke-width="0.4"/><circle cx="727.8" cy="346.9" r="1.2" fill="#ffffff" stroke="#d4ccc4" stroke-width="0.4"/><circle cx="736.0" cy="346.9" r="1.2" fill="#ffffff" stroke="#d4ccc4" stroke-width="0.4"/><rect x="729.1" y="330.8" width="5.600000000000023" height="18.099999999999966" fill="#ffffff" stroke="#d4ccc4" stroke-width="0.5" /><circle cx="683.6" cy="128.2" r="1.2" fill="#ffffff" stroke="#d4ccc4" stroke-width="0.4"/><circle cx="683.6" cy="155.1" r="1.2" fill="#ffffff" stroke="#d4ccc4" stroke-width="0.4"/><circle cx="687.9" cy="128.2" r="1.2" fill="#ffffff" stroke="#d4ccc4" stroke-width="0.4"/><circle cx="687.9" cy="155.1" r="1.2" fill="#ffffff" stroke="#d4ccc4" stroke-width="0.4"/><circle cx="692.1" cy="128.2" r="1.2" fill="#ffffff" stroke="#d4ccc4" stroke-width="0.4"/><circle cx="692.1" cy="155.1" r="1.2" fill="#ffffff" stroke="#d4ccc4" stroke-width="0.4"/><circle cx="696.4" cy="128.2" r="1.2" fill="#ffffff" stroke="#d4ccc4" stroke-width="0.4"/><circle cx="696.4" cy="155.1" r="1.2" fill="#ffffff" stroke="#d4ccc4" stroke-width="0.4"/><circle cx="679.4" cy="131.9" r="1.1" fill="#ffffff" stroke="#d4ccc4" stroke-width="0.4"/><circle cx="700.6" cy="131.9" r="1.1" fill="#ffffff" stroke="#d4ccc4" stroke-width="0.4"/><circle cx="679.4" cy="135.8" r="1.1" fill="#ffffff" stroke="#d4ccc4" stroke-width="0.4"/><circle cx="700.6" cy="135.8" r="1.1" fill="#ffffff" stroke="#d4ccc4" stroke-width="0.4"/><circle cx="679.4" cy="139.7" r="1.1" fill="#ffffff" stroke="#d4ccc4" stroke-width="0.4"/><circle cx="700.6" cy="139.7" r="1.1" fill="#ffffff" stroke="#d4ccc4" stroke-width="0.4"/><circle cx="679.4" cy="143.6" r="1.1" fill="#ffffff" stroke="#d4ccc4" stroke-width="0.4"/><circle cx="700.6" cy="143.6" r="1.1" fill="#ffffff" stroke="#d4ccc4" stroke-width="0.4"/><circle cx="679.4" cy="147.5" r="1.1" fill="#ffffff" stroke="#d4ccc4" stroke-width="0.4"/><circle cx="700.6" cy="147.5" r="1.1" fill="#ffffff" stroke="#d4ccc4" stroke-width="0.4"/><circle cx="679.4" cy="151.4" r="1.1" fill="#ffffff" stroke="#d4ccc4" stroke-width="0.4"/><circle cx="700.6" cy="151.4" r="1.1" fill="#ffffff" stroke="#d4ccc4" stroke-width="0.4"/><rect x="680.6" y="129.4" width="18.799999999999955" height="24.5" fill="#ffffff" stroke="#d4ccc4" stroke-width="0.6" /><rect x="685.0" y="133.9" width="9.999999999999954" height="15.5" fill="none" stroke="#cfc7bf" stroke-width="0.7" /><circle cx="684.0" cy="328.5" r="1.2" fill="#ffffff" stroke="#d4ccc4" stroke-width="0.4"/><circle cx="684.0" cy="355.2" r="1.2" fill="#ffffff" stroke="#d4ccc4" stroke-width="0.4"/><circle cx="688.2" cy="328.5" r="1.2" fill="#ffffff" stroke="#d4ccc4" stroke-width="0.4"/><circle cx="688.2" cy="355.2" r="1.2" fill="#ffffff" stroke="#d4ccc4" stroke-width="0.4"/><circle cx="692.5" cy="328.5" r="1.2" fill="#ffffff" stroke="#d4ccc4" stroke-width="0.4"/><circle cx="692.5" cy="355.2" r="1.2" fill="#ffffff" stroke="#d4ccc4" stroke-width="0.4"/><circle cx="696.7" cy="328.5" r="1.2" fill="#ffffff" stroke="#d4ccc4" stroke-width="0.4"/><circle cx="696.7" cy="355.2" r="1.2" fill="#ffffff" stroke="#d4ccc4" stroke-width="0.4"/><circle cx="679.8" cy="332.2" r="1.1" fill="#ffffff" stroke="#d4ccc4" stroke-width="0.4"/><circle cx="700.9" cy="332.2" r="1.1" fill="#ffffff" stroke="#d4ccc4" stroke-width="0.4"/><circle cx="679.8" cy="336.1" r="1.1" fill="#ffffff" stroke="#d4ccc4" stroke-width="0.4"/><circle cx="700.9" cy="336.1" r="1.1" fill="#ffffff" stroke="#d4ccc4" stroke-width="0.4"/><circle cx="679.8" cy="339.9" r="1.1" fill="#ffffff" stroke="#d4ccc4" stroke-width="0.4"/><circle cx="700.9" cy="339.9" r="1.1" fill="#ffffff" stroke="#d4ccc4" stroke-width="0.4"/><circle cx="679.8" cy="343.8" r="1.1" fill="#ffffff" stroke="#d4ccc4" stroke-width="0.4"/><circle cx="700.9" cy="343.8" r="1.1" fill="#ffffff" stroke="#d4ccc4" stroke-width="0.4"/><circle cx="679.8" cy="347.6" r="1.1" fill="#ffffff" stroke="#d4ccc4" stroke-width="0.4"/><circle cx="700.9" cy="347.6" r="1.1" fill="#ffffff" stroke="#d4ccc4" stroke-width="0.4"/><circle cx="679.8" cy="351.5" r="1.1" fill="#ffffff" stroke="#d4ccc4" stroke-width="0.4"/><circle cx="700.9" cy="351.5" r="1.1" fill="#ffffff" stroke="#d4ccc4" stroke-width="0.4"/><rect x="681.0" y="329.7" width="18.700000000000045" height="24.30000000000001" fill="#ffffff" stroke="#d4ccc4" stroke-width="0.6" /><rect x="685.4" y="334.2" width="9.900000000000045" height="15.300000000000011" fill="none" stroke="#cfc7bf" stroke-width="0.7" /><path d="M596.0,121.0 L586,137.0 M596.0,121.0 L606,137.0" stroke="#b7aea6" stroke-width="0.5" fill="none"/><rect x="585" y="124.0" width="22" height="4" fill="#ffffff" stroke="#d4ccc4" stroke-width="0.5" /><circle cx="588.0" cy="129.3" r="1.1" fill="#ffffff" stroke="#d4ccc4" stroke-width="0.4"/><circle cx="592.0" cy="129.3" r="1.1" fill="#ffffff" stroke="#d4ccc4" stroke-width="0.4"/><circle cx="596.0" cy="129.3" r="1.1" fill="#ffffff" stroke="#d4ccc4" stroke-width="0.4"/><circle cx="600.0" cy="129.3" r="1.1" fill="#ffffff" stroke="#d4ccc4" stroke-width="0.4"/><circle cx="604.0" cy="129.3" r="1.1" fill="#ffffff" stroke="#d4ccc4" stroke-width="0.4"/><path d="M743.7,121.2 L734,137.2 M743.7,121.2 L753.4,137.2" stroke="#b7aea6" stroke-width="0.5" fill="none"/><rect x="733" y="124.2" width="21.399999999999977" height="4" fill="#ffffff" stroke="#d4ccc4" stroke-width="0.5" /><circle cx="736.0" cy="129.5" r="1.1" fill="#ffffff" stroke="#d4ccc4" stroke-width="0.4"/><circle cx="739.9" cy="129.5" r="1.1" fill="#ffffff" stroke="#d4ccc4" stroke-width="0.4"/><circle cx="743.7" cy="129.5" r="1.1" fill="#ffffff" stroke="#d4ccc4" stroke-width="0.4"/><circle cx="747.5" cy="129.5" r="1.1" fill="#ffffff" stroke="#d4ccc4" stroke-width="0.4"/><circle cx="751.4" cy="129.5" r="1.1" fill="#ffffff" stroke="#d4ccc4" stroke-width="0.4"/><path d="M596.5,362.0 L587,346.0 M596.5,362.0 L606,346.0" stroke="#b7aea6" stroke-width="0.5" fill="none"/><rect x="586" y="355.0" width="21" height="4" fill="#ffffff" stroke="#d4ccc4" stroke-width="0.5" /><circle cx="589.0" cy="353.7" r="1.1" fill="#ffffff" stroke="#d4ccc4" stroke-width="0.4"/><circle cx="592.8" cy="353.7" r="1.1" fill="#ffffff" stroke="#d4ccc4" stroke-width="0.4"/><circle cx="596.5" cy="353.7" r="1.1" fill="#ffffff" stroke="#d4ccc4" stroke-width="0.4"/><circle cx="600.2" cy="353.7" r="1.1" fill="#ffffff" stroke="#d4ccc4" stroke-width="0.4"/><circle cx="604.0" cy="353.7" r="1.1" fill="#ffffff" stroke="#d4ccc4" stroke-width="0.4"/><path d="M764.5,361.5 L755,345.5 M764.5,361.5 L774,345.5" stroke="#b7aea6" stroke-width="0.5" fill="none"/><rect x="754" y="354.5" width="21" height="4" fill="#ffffff" stroke="#d4ccc4" stroke-width="0.5" /><circle cx="757.0" cy="353.2" r="1.1" fill="#ffffff" stroke="#d4ccc4" stroke-width="0.4"/><circle cx="760.8" cy="353.2" r="1.1" fill="#ffffff" stroke="#d4ccc4" stroke-width="0.4"/><circle cx="764.5" cy="353.2" r="1.1" fill="#ffffff" stroke="#d4ccc4" stroke-width="0.4"/><circle cx="768.2" cy="353.2" r="1.1" fill="#ffffff" stroke="#d4ccc4" stroke-width="0.4"/><circle cx="772.0" cy="353.2" r="1.1" fill="#ffffff" stroke="#d4ccc4" stroke-width="0.4"/><rect x="688" y="22" width="139" height="58" fill="#fdfdfd" /><polygon points="695,68 712,64 770,64 790,70 790,78 760,79.6 733,79.6 700,74" fill="#ffffff" stroke="#d6d6d6" stroke-width="0.6"/><line x1="715" y1="66.0" x2="745" y2="78" stroke="#e2e2e2" stroke-width="0.6"/><line x1="724" y1="66.5" x2="754" y2="78" stroke="#e2e2e2" stroke-width="0.6"/><line x1="733" y1="67.0" x2="763" y2="78" stroke="#e2e2e2" stroke-width="0.6"/><line x1="742" y1="67.5" x2="772" y2="78" stroke="#e2e2e2" stroke-width="0.6"/><polygon points="752,46 760,43 779,52 779,62 766,68 756,63" fill="#ffffff" stroke="#d2d2d2" stroke-width="0.6"/><line x1="756.0" y1="47.0" x2="777" y2="55.0" stroke="#dadada" stroke-width="0.6"/><line x1="760.5" y1="48.2" x2="777" y2="57.2" stroke="#dadada" stroke-width="0.6"/><line x1="765.0" y1="49.4" x2="777" y2="59.4" stroke="#dadada" stroke-width="0.6"/><line x1="769.5" y1="50.6" x2="777" y2="61.6" stroke="#dadada" stroke-width="0.6"/><polygon points="694.3,25 699.4,23 699.4,66.5 694.3,65.5" fill="#efefef" stroke="#cfcfcf" stroke-width="0.5"/><polygon points="699.4,23 704,22.3 722.9,22.3 722.9,64 705,69 699.4,66.5" fill="#f7f7f7" stroke="#d0d0d0" stroke-width="0.5"/><line x1="700.5" y1="23" x2="700.5" y2="66" stroke="#e3e3e3" stroke-width="0.6"/><line x1="703.3" y1="23" x2="703.3" y2="66" stroke="#e3e3e3" stroke-width="0.6"/><line x1="706.1" y1="23" x2="706.1" y2="66" stroke="#e3e3e3" stroke-width="0.6"/><line x1="708.9" y1="23" x2="708.9" y2="66" stroke="#e3e3e3" stroke-width="0.6"/><line x1="711.7" y1="23" x2="711.7" y2="66" stroke="#e3e3e3" stroke-width="0.6"/><line x1="714.5" y1="23" x2="714.5" y2="66" stroke="#e3e3e3" stroke-width="0.6"/><line x1="717.3" y1="23" x2="717.3" y2="66" stroke="#e3e3e3" stroke-width="0.6"/><line x1="720.1" y1="23" x2="720.1" y2="66" stroke="#e3e3e3" stroke-width="0.6"/><line x1="705.2" y1="23" x2="705.2" y2="68" stroke="#cfcfcf" stroke-width="0.6"/><line x1="695.3" y1="25" x2="695.3" y2="65.5" stroke="#d4d4d4" stroke-width="0.5"/><line x1="696.8" y1="25" x2="696.8" y2="65.5" stroke="#d4d4d4" stroke-width="0.5"/><line x1="698.3" y1="25" x2="698.3" y2="65.5" stroke="#d4d4d4" stroke-width="0.5"/><polygon points="714,41.2 729.8,50.9 729.8,57.8 722.3,53.2" fill="#86abe8"/><polygon points="754.4,53 764,62.9 752,71 748,70" fill="#86abe8"/><polygon points="758,74 766,73 766,78 760,79" fill="#86abe8"/><polygon points="811.7,56.3 822.7,64.5 811.7,73" fill="#7ea6e8"/><polygon points="780,76 786,79.6 790,79.6 780,75" fill="#7ea6e8"/><polygon points="740,37.7 744,36.8 755,44 755.6,72 751.5,74.3 729.2,74.3 729.2,52.6 740,45" fill="#f4dea4" stroke="#e3c060" stroke-width="0.6"/><polygon points="751.5,44 755.6,42.5 755.6,72 751.5,74.3" fill="#ecd290"/><line x1="729.2" y1="55.5" x2="755.6" y2="57.5" stroke="#e0a018" stroke-width="1.3"/><polygon points="713.9,35.7 744.5,51.5 744.5,56.7 713.9,41.2" fill="#f1f1f1" stroke="#c9c9c9" stroke-width="0.6"/><polygon points="744.5,51.5 752.4,47.5 752.4,53 744.5,56.7" fill="#e4e4e4" stroke="#c9c9c9" stroke-width="0.5"/><polygon points="713.9,35.7 722.2,31.1 752.4,47.5 744.5,51.5" fill="#ffffff" stroke="#cfcfcf" stroke-width="0.6"/><polygon points="780.5,43 793.3,50.5 793.3,79.6 780.5,75.5" fill="#efefef" stroke="#cdcdcd" stroke-width="0.5"/><polygon points="793.3,50.5 801.2,46 801.2,78.5 793.3,79.6" fill="#f6f6f6" stroke="#d3d3d3" stroke-width="0.4"/><polygon points="801.2,46 812.3,41.5 812.3,76 801.2,78.5" fill="#f4f4f4" stroke="#cdcdcd" stroke-width="0.5"/><polygon points="780.5,43 788,39 801.2,46 793.3,50.5" fill="#ffffff" stroke="#cfcfcf" stroke-width="0.5"/><polygon points="788,39 795.5,34 812.3,41.5 801.2,46" fill="#fcfcfc" stroke="#cfcfcf" stroke-width="0.5"/><line x1="801.5" y1="46.5" x2="801.5" y2="78.3" stroke="#4b77c9" stroke-width="0.9"/><text x="702.5" y="68" font-family="Liberation Sans, sans-serif" font-size="7.5" fill="#8a7e76">A#</text><text x="741.5" y="73.8" font-family="Liberation Sans, sans-serif" font-size="7.5" fill="#8a7e76">B#</text><text x="784.5" y="75" font-family="Liberation Sans, sans-serif" font-size="7.5" fill="#8a7e76">C#</text><text x="806.5" y="69.8" font-family="Liberation Sans, sans-serif" font-size="7.5" fill="#8a7e76">D#</text></svg>
<div id="title"><span class="w1">办公楼B座</span><span class="w2">：</span><span class="w3">部分出售、部分租赁</span></div>
<div class="t" style="left:237px;top:156px;font-size:10px;color:#8a8a8a;font-weight:normal;">连廊</div>
<div class="t" style="left:117.2px;top:117.5px;font-size:7.8px;color:#f4f8fc;font-weight:normal;">酒店</div>
<div class="t" style="left:361.4px;top:114.4px;font-size:11.5px;color:#8d8d8d;font-weight:bold;">B座</div>
<div class="t" style="left:430.6px;top:137.8px;font-size:9.4px;color:#111;font-weight:bold;">游泳池</div>
<div class="fl" style="top:151.9px">21F</div><div class="fl" style="top:161.9px">20F</div><div class="fl" style="top:173.3px">19F</div><div class="fl" style="top:183.5px">18F</div><div class="fl" style="top:194.5px">17F</div><div class="fl" style="top:204.5px">16F</div><div class="fl" style="top:215.0px">15F</div><div class="fl" style="top:224.8px">14F</div><div class="fl" style="top:235.0px">13F</div><div class="fl" style="top:245.6px">12F</div><div class="fl" style="top:257.1px">11F</div><div class="fl" style="top:266.6px">10F</div><div class="fl" style="top:277.3px">9F</div><div class="fl" style="top:287.5px">8F</div><div class="fl" style="top:297.6px">7F</div><div class="fl" style="top:308.3px">6F</div><div class="fl" style="top:317.6px">5F</div><div class="fl" style="top:328.3px">4F</div><div class="fl" style="top:338.4px">3F</div><div class="fl" style="top:348.2px">2F</div><div class="fl" style="top:366.2px">1F</div>
<div class="t" style="left:456.3px;top:179.3px;font-size:12px;color:#f01020;font-weight:bold;">16-21层已预定</div>
<div class="t" style="left:457.8px;top:233.8px;font-size:12px;color:#111;font-weight:bold;">11-15层出售</div>
<div class="t" style="left:455.3px;top:305px;font-size:12px;color:#111;font-weight:bold;">2-10层租赁</div>
<div class="t" style="left:639.6px;top:389.6px;font-size:11.5px;color:#111;font-weight:bold;">B座 标准层平面图</div>
<table>
<colgroup><col style="width:81.2px"><col style="width:116px"><col style="width:114.9px"><col style="width:98.1px"><col style="width:119.8px"><col style="width:120.2px"><col style="width:119.7px"></colgroup>
<tr class="h"><td></td><td style="padding-right:5px">办公建筑面积（㎡）</td><td style="padding-right:5px">标准层面积（㎡）</td><td>建筑高度（m）</td><td style="padding-right:1px">层高（m）</td><td>电梯数量</td><td style="padding-right:6px">标准层承重（kg/㎡）</td></tr>
<tr class="d"><td style="font-size:11px">B座</td><td>44814.03</td><td>2422.22</td><td>100</td><td>4.25</td><td style="font-size:11.9px">10部客梯、2部货梯</td><td>300</td></tr>
</table>
<div class="t" style="left:756.3px;top:511.8px;font-size:9px;color:#111;font-weight:bold;letter-spacing:1.1px;">*最终以产证面积为准</div>
</body></html>
